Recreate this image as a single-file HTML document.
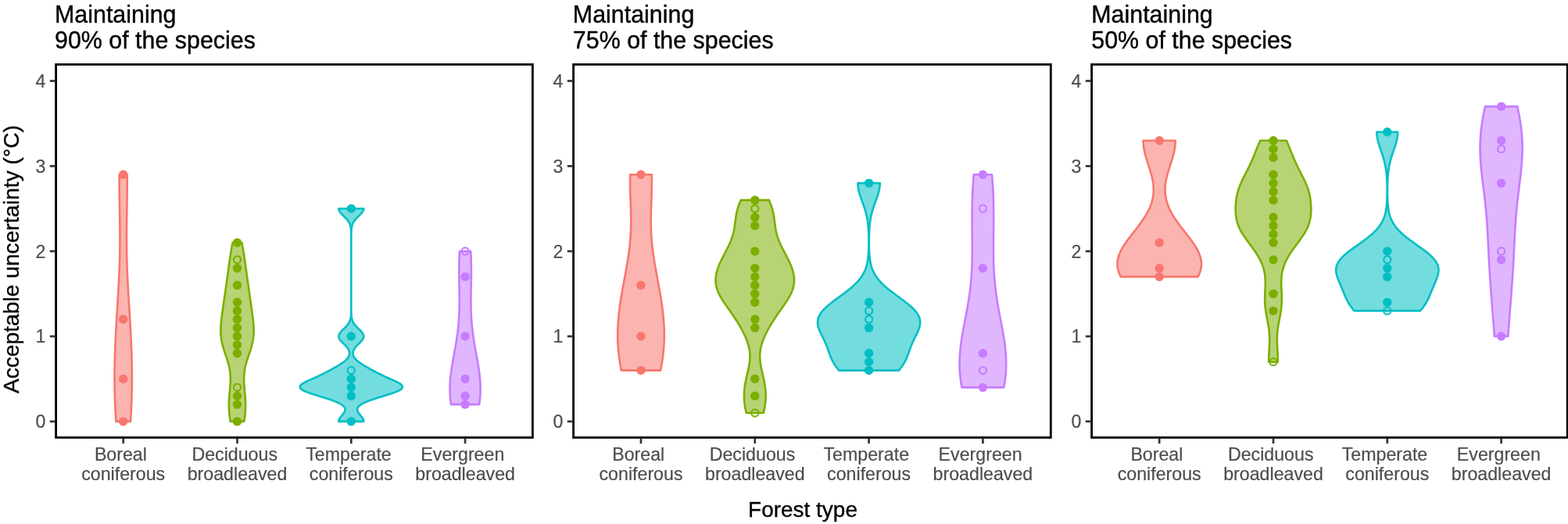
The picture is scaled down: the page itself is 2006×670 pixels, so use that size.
<!DOCTYPE html>
<html lang="en"><head><meta charset="utf-8"><title>Acceptable uncertainty by forest type</title>
<style>html,body{margin:0;padding:0;background:#fff;overflow:hidden}svg{display:block}text{font-family:"Liberation Sans",Arial,Helvetica,sans-serif}.t{font-size:31.6px;fill:#000;stroke:#000;stroke-width:.4px}.x{font-size:28.4px;fill:#000;stroke:#000;stroke-width:.35px}.a{font-size:23.2px;fill:#4D4D4D;stroke:#4D4D4D;stroke-width:.2px}</style></head><body>
<svg width="2006" height="670" viewBox="0 0 2006 670">
<rect width="2006" height="670" fill="#fff"/>
<text class="x" transform="translate(24.3,503.1) rotate(-90) scale(0.9920,1)">Acceptable uncertainty (°C)</text>
<text class="x" text-anchor="middle" transform="translate(1027,660.9) scale(0.9850,1)">Forest type</text>
<g>
<text class="t" transform="translate(70.05,28.7) scale(0.9620,1)">Maintaining</text>
<text class="t" transform="translate(70.05,61.6) scale(0.9620,1)">90% of the species</text>
<path d="M148.38,538.9L148.26,537.05L148.15,535.19L148.04,533.34L147.93,531.49L147.83,529.63L147.73,527.78L147.64,525.93L147.54,524.07L147.46,522.22L147.37,520.37L147.29,518.51L147.21,516.66L147.14,514.81L147.07,512.95L147.01,511.1L146.94,509.25L146.89,507.4L146.84,505.54L146.79,503.69L146.74,501.84L146.7,499.98L146.67,498.13L146.63,496.28L146.61,494.42L146.58,492.57L146.56,490.72L146.55,488.86L146.54,487.01L146.53,485.16L146.53,483.3L146.53,481.45L146.53,479.6L146.54,477.74L146.56,475.89L146.57,474.04L146.59,472.18L146.62,470.33L146.65,468.48L146.68,466.62L146.71,464.77L146.75,462.92L146.79,461.06L146.84,459.21L146.89,457.36L146.94,455.51L147,453.65L147.06,451.8L147.12,449.95L147.18,448.09L147.25,446.24L147.32,444.39L147.4,442.53L147.47,440.68L147.55,438.83L147.63,436.97L147.72,435.12L147.81,433.27L147.89,431.41L147.99,429.56L148.08,427.71L148.17,425.85L148.27,424L148.37,422.15L148.47,420.29L148.58,418.44L148.68,416.59L148.79,414.73L148.89,412.88L149,411.03L149.11,409.17L149.22,407.32L149.33,405.47L149.45,403.62L149.56,401.76L149.67,399.91L149.79,398.06L149.9,396.2L150.01,394.35L150.13,392.5L150.24,390.64L150.36,388.79L150.47,386.94L150.59,385.08L150.7,383.23L150.81,381.38L150.92,379.52L151.03,377.67L151.14,375.82L151.25,373.96L151.36,372.11L151.46,370.26L151.57,368.4L151.67,366.55L151.77,364.7L151.87,362.84L151.96,360.99L152.06,359.14L152.15,357.28L152.24,355.43L152.32,353.58L152.41,351.72L152.49,349.87L152.57,348.02L152.64,346.17L152.71,344.31L152.78,342.46L152.85,340.61L152.91,338.75L152.97,336.9L153.03,335.05L153.08,333.19L153.13,331.34L153.18,329.49L153.22,327.63L153.26,325.78L153.29,323.93L153.32,322.07L153.35,320.22L153.38,318.37L153.4,316.51L153.42,314.66L153.43,312.81L153.45,310.95L153.45,309.1L153.46,307.25L153.46,305.39L153.46,303.54L153.46,301.69L153.45,299.83L153.44,297.98L153.43,296.13L153.42,294.28L153.4,292.42L153.39,290.57L153.37,288.72L153.35,286.86L153.32,285.01L153.3,283.16L153.27,281.3L153.24,279.45L153.21,277.6L153.19,275.74L153.16,273.89L153.12,272.04L153.09,270.18L153.06,268.33L153.03,266.48L153,264.62L152.97,262.77L152.94,260.92L152.91,259.06L152.88,257.21L152.85,255.36L152.83,253.5L152.8,251.65L152.78,249.8L152.75,247.94L152.73,246.09L152.71,244.24L152.7,242.38L152.68,240.53L152.67,238.68L152.66,236.83L152.65,234.97L152.65,233.12L152.64,231.27L152.64,229.41L152.64,227.56L152.65,225.71L152.66,223.85L152.66,223.24L162.74,223.24L162.74,223.85L162.75,225.71L162.76,227.56L162.76,229.41L162.76,231.27L162.75,233.12L162.75,234.97L162.74,236.83L162.73,238.68L162.72,240.53L162.7,242.38L162.69,244.24L162.67,246.09L162.65,247.94L162.62,249.8L162.6,251.65L162.57,253.5L162.55,255.36L162.52,257.21L162.49,259.06L162.46,260.92L162.43,262.77L162.4,264.62L162.37,266.48L162.34,268.33L162.31,270.18L162.28,272.04L162.24,273.89L162.21,275.74L162.19,277.6L162.16,279.45L162.13,281.3L162.1,283.16L162.08,285.01L162.05,286.86L162.03,288.72L162.01,290.57L162,292.42L161.98,294.28L161.97,296.13L161.96,297.98L161.95,299.83L161.94,301.69L161.94,303.54L161.94,305.39L161.94,307.25L161.95,309.1L161.95,310.95L161.97,312.81L161.98,314.66L162,316.51L162.02,318.37L162.05,320.22L162.08,322.07L162.11,323.93L162.14,325.78L162.18,327.63L162.22,329.49L162.27,331.34L162.32,333.19L162.37,335.05L162.43,336.9L162.49,338.75L162.55,340.61L162.62,342.46L162.69,344.31L162.76,346.17L162.83,348.02L162.91,349.87L162.99,351.72L163.08,353.58L163.16,355.43L163.25,357.28L163.34,359.14L163.44,360.99L163.53,362.84L163.63,364.7L163.73,366.55L163.83,368.4L163.94,370.26L164.04,372.11L164.15,373.96L164.26,375.82L164.37,377.67L164.48,379.52L164.59,381.38L164.7,383.23L164.81,385.08L164.93,386.94L165.04,388.79L165.16,390.64L165.27,392.5L165.39,394.35L165.5,396.2L165.61,398.06L165.73,399.91L165.84,401.76L165.95,403.62L166.07,405.47L166.18,407.32L166.29,409.17L166.4,411.03L166.51,412.88L166.61,414.73L166.72,416.59L166.82,418.44L166.93,420.29L167.03,422.15L167.13,424L167.23,425.85L167.32,427.71L167.41,429.56L167.51,431.41L167.59,433.27L167.68,435.12L167.77,436.97L167.85,438.83L167.93,440.68L168,442.53L168.08,444.39L168.15,446.24L168.22,448.09L168.28,449.95L168.34,451.8L168.4,453.65L168.46,455.51L168.51,457.36L168.56,459.21L168.61,461.06L168.65,462.92L168.69,464.77L168.72,466.62L168.75,468.48L168.78,470.33L168.81,472.18L168.83,474.04L168.84,475.89L168.86,477.74L168.87,479.6L168.87,481.45L168.87,483.3L168.87,485.16L168.86,487.01L168.85,488.86L168.84,490.72L168.82,492.57L168.79,494.42L168.77,496.28L168.73,498.13L168.7,499.98L168.66,501.84L168.61,503.69L168.56,505.54L168.51,507.4L168.46,509.25L168.39,511.1L168.33,512.95L168.26,514.81L168.19,516.66L168.11,518.51L168.03,520.37L167.94,522.22L167.86,524.07L167.76,525.93L167.67,527.78L167.57,529.63L167.47,531.49L167.36,533.34L167.25,535.19L167.14,537.05L167.02,538.9Z" fill="#F8766D" fill-opacity="0.55" stroke="#F8766D" stroke-width="2.6" stroke-linejoin="round"/>
<path d="M294.72,538.9L294.5,537.56L294.29,536.22L294.09,534.87L293.91,533.53L293.74,532.19L293.58,530.85L293.44,529.51L293.32,528.16L293.21,526.82L293.11,525.48L293.04,524.14L292.97,522.8L292.92,521.45L292.89,520.11L292.88,518.77L292.88,517.43L292.89,516.09L292.92,514.74L292.96,513.4L293.01,512.06L293.08,510.72L293.15,509.38L293.24,508.03L293.34,506.69L293.44,505.35L293.56,504.01L293.67,502.67L293.79,501.32L293.91,499.98L294.04,498.64L294.16,497.3L294.28,495.96L294.39,494.61L294.49,493.27L294.59,491.93L294.67,490.59L294.75,489.25L294.8,487.9L294.84,486.56L294.86,485.22L294.86,483.88L294.84,482.54L294.79,481.19L294.72,479.85L294.63,478.51L294.5,477.17L294.35,475.83L294.18,474.48L293.97,473.14L293.74,471.8L293.48,470.46L293.19,469.12L292.88,467.77L292.55,466.43L292.19,465.09L291.82,463.75L291.42,462.41L291.01,461.06L290.58,459.72L290.15,458.38L289.7,457.04L289.25,455.7L288.79,454.35L288.34,453.01L287.88,451.67L287.43,450.33L286.99,448.99L286.56,447.64L286.14,446.3L285.74,444.96L285.35,443.62L284.98,442.28L284.63,440.93L284.31,439.59L284.01,438.25L283.73,436.91L283.48,435.57L283.25,434.23L283.05,432.88L282.88,431.54L282.73,430.2L282.61,428.86L282.52,427.52L282.45,426.17L282.4,424.83L282.37,423.49L282.37,422.15L282.39,420.81L282.42,419.46L282.48,418.12L282.55,416.78L282.64,415.44L282.74,414.1L282.85,412.75L282.98,411.41L283.11,410.07L283.26,408.73L283.41,407.39L283.57,406.04L283.74,404.7L283.91,403.36L284.08,402.02L284.26,400.68L284.44,399.33L284.63,397.99L284.81,396.65L285,395.31L285.19,393.97L285.38,392.62L285.57,391.28L285.76,389.94L285.96,388.6L286.15,387.26L286.34,385.91L286.54,384.57L286.73,383.23L286.92,381.89L287.11,380.55L287.31,379.2L287.5,377.86L287.69,376.52L287.89,375.18L288.08,373.84L288.27,372.49L288.46,371.15L288.65,369.81L288.85,368.47L289.04,367.13L289.23,365.78L289.42,364.44L289.6,363.1L289.79,361.76L289.98,360.42L290.17,359.07L290.35,357.73L290.54,356.39L290.73,355.05L290.91,353.71L291.1,352.36L291.28,351.02L291.47,349.68L291.65,348.34L291.83,347L292.02,345.65L292.21,344.31L292.39,342.97L292.58,341.63L292.77,340.29L292.96,338.94L293.15,337.6L293.34,336.26L293.54,334.92L293.73,333.58L293.93,332.23L294.13,330.89L294.34,329.55L294.54,328.21L294.75,326.87L294.96,325.52L295.18,324.18L295.39,322.84L295.61,321.5L295.83,320.16L296.06,318.81L296.28,317.47L296.51,316.13L296.74,314.79L296.97,313.45L297.2,312.1L297.43,310.76L297.51,310.31L309.49,310.31L309.57,310.76L309.8,312.1L310.03,313.45L310.26,314.79L310.49,316.13L310.72,317.47L310.94,318.81L311.17,320.16L311.39,321.5L311.61,322.84L311.82,324.18L312.04,325.52L312.25,326.87L312.46,328.21L312.66,329.55L312.87,330.89L313.07,332.23L313.27,333.58L313.46,334.92L313.66,336.26L313.85,337.6L314.04,338.94L314.23,340.29L314.42,341.63L314.61,342.97L314.79,344.31L314.98,345.65L315.17,347L315.35,348.34L315.53,349.68L315.72,351.02L315.9,352.36L316.09,353.71L316.27,355.05L316.46,356.39L316.65,357.73L316.83,359.07L317.02,360.42L317.21,361.76L317.4,363.1L317.58,364.44L317.77,365.78L317.96,367.13L318.15,368.47L318.35,369.81L318.54,371.15L318.73,372.49L318.92,373.84L319.11,375.18L319.31,376.52L319.5,377.86L319.69,379.2L319.89,380.55L320.08,381.89L320.27,383.23L320.46,384.57L320.66,385.91L320.85,387.26L321.04,388.6L321.24,389.94L321.43,391.28L321.62,392.62L321.81,393.97L322,395.31L322.19,396.65L322.37,397.99L322.56,399.33L322.74,400.68L322.92,402.02L323.09,403.36L323.26,404.7L323.43,406.04L323.59,407.39L323.74,408.73L323.89,410.07L324.02,411.41L324.15,412.75L324.26,414.1L324.36,415.44L324.45,416.78L324.52,418.12L324.58,419.46L324.61,420.81L324.63,422.15L324.63,423.49L324.6,424.83L324.55,426.17L324.48,427.52L324.39,428.86L324.27,430.2L324.12,431.54L323.95,432.88L323.75,434.23L323.52,435.57L323.27,436.91L322.99,438.25L322.69,439.59L322.37,440.93L322.02,442.28L321.65,443.62L321.26,444.96L320.86,446.3L320.44,447.64L320.01,448.99L319.57,450.33L319.12,451.67L318.66,453.01L318.21,454.35L317.75,455.7L317.3,457.04L316.85,458.38L316.42,459.72L315.99,461.06L315.58,462.41L315.18,463.75L314.81,465.09L314.45,466.43L314.12,467.77L313.81,469.12L313.52,470.46L313.26,471.8L313.03,473.14L312.82,474.48L312.65,475.83L312.5,477.17L312.37,478.51L312.28,479.85L312.21,481.19L312.16,482.54L312.14,483.88L312.14,485.22L312.16,486.56L312.2,487.9L312.25,489.25L312.33,490.59L312.41,491.93L312.51,493.27L312.61,494.61L312.72,495.96L312.84,497.3L312.96,498.64L313.09,499.98L313.21,501.32L313.33,502.67L313.44,504.01L313.56,505.35L313.66,506.69L313.76,508.03L313.85,509.38L313.92,510.72L313.99,512.06L314.04,513.4L314.08,514.74L314.11,516.09L314.12,517.43L314.12,518.77L314.11,520.11L314.08,521.45L314.03,522.8L313.96,524.14L313.89,525.48L313.79,526.82L313.68,528.16L313.56,529.51L313.42,530.85L313.26,532.19L313.09,533.53L312.91,534.87L312.71,536.22L312.5,537.56L312.28,538.9Z" fill="#7CAE00" fill-opacity="0.55" stroke="#7CAE00" stroke-width="2.6" stroke-linejoin="round"/>
<path d="M433.26,538.9L433.46,537.3L434.07,535.7L435.03,534.11L436.24,532.51L437.57,530.91L438.89,529.31L440.07,527.72L440.96,526.12L441.47,524.52L441.49,522.92L440.96,521.33L439.83,519.73L438.06,518.13L435.64,516.53L432.58,514.94L428.92,513.34L424.72,511.74L420.04,510.14L415.03,508.55L409.8,506.95L404.56,505.35L399.49,503.75L394.81,502.16L390.75,500.56L387.48,498.96L385.17,497.36L383.92,495.76L383.75,494.17L384.62,492.57L386.4,490.97L388.95,489.37L392.04,487.78L395.5,486.18L399.11,484.58L402.75,482.98L406.3,481.39L409.72,479.79L412.98,478.19L416.1,476.59L419.12,475L422.08,473.4L424.99,471.8L427.85,470.2L430.66,468.61L433.37,467.01L435.94,465.41L438.31,463.81L440.45,462.22L442.31,460.62L443.87,459.02L445.12,457.42L446.05,455.82L446.67,454.23L446.99,452.63L447.02,451.03L446.76,449.43L446.22,447.84L445.4,446.24L444.33,444.64L443.03,443.04L441.55,441.45L439.96,439.85L438.33,438.25L436.78,436.65L435.4,435.06L434.31,433.46L433.59,431.86L433.3,430.26L433.47,428.67L434.08,427.07L435.08,425.47L436.4,423.87L437.92,422.27L439.55,420.68L441.18,419.08L442.73,417.48L444.13,415.88L445.35,414.29L446.37,412.69L447.19,411.09L447.82,409.49L448.29,407.9L448.63,406.3L448.87,404.7L449.03,403.1L449.14,401.51L449.2,399.91L449.25,398.31L449.27,396.71L449.28,395.12L449.29,393.52L449.3,391.92L449.3,390.32L449.3,388.73L449.3,387.13L449.3,385.53L449.3,383.93L449.3,382.33L449.3,380.74L449.3,379.14L449.3,377.54L449.3,375.94L449.3,374.35L449.3,372.75L449.3,371.15L449.3,369.55L449.3,367.96L449.3,366.36L449.3,364.76L449.3,363.16L449.3,361.57L449.3,359.97L449.3,358.37L449.3,356.77L449.3,355.18L449.3,353.58L449.3,351.98L449.3,350.38L449.3,348.79L449.3,347.19L449.3,345.59L449.3,343.99L449.3,342.39L449.3,340.8L449.3,339.2L449.3,337.6L449.3,336L449.3,334.41L449.3,332.81L449.3,331.21L449.3,329.61L449.3,328.02L449.3,326.42L449.3,324.82L449.3,323.22L449.3,321.63L449.3,320.03L449.3,318.43L449.3,316.83L449.3,315.24L449.3,313.64L449.3,312.04L449.3,310.44L449.3,308.85L449.3,307.25L449.3,305.65L449.29,304.05L449.29,302.45L449.28,300.86L449.26,299.26L449.23,297.66L449.17,296.06L449.09,294.47L448.95,292.87L448.76,291.27L448.47,289.67L448.06,288.08L447.5,286.48L446.78,284.88L445.85,283.28L444.73,281.69L443.4,280.09L441.92,278.49L440.31,276.89L438.67,275.3L437.09,273.7L435.66,272.1L434.51,270.5L433.7,268.91L433.33,267.31L433.3,266.77L465.3,266.77L465.27,267.31L464.9,268.91L464.09,270.5L462.94,272.1L461.51,273.7L459.93,275.3L458.29,276.89L456.68,278.49L455.2,280.09L453.87,281.69L452.75,283.28L451.82,284.88L451.1,286.48L450.54,288.08L450.13,289.67L449.84,291.27L449.65,292.87L449.51,294.47L449.43,296.06L449.37,297.66L449.34,299.26L449.32,300.86L449.31,302.45L449.31,304.05L449.3,305.65L449.3,307.25L449.3,308.85L449.3,310.44L449.3,312.04L449.3,313.64L449.3,315.24L449.3,316.83L449.3,318.43L449.3,320.03L449.3,321.63L449.3,323.22L449.3,324.82L449.3,326.42L449.3,328.02L449.3,329.61L449.3,331.21L449.3,332.81L449.3,334.41L449.3,336L449.3,337.6L449.3,339.2L449.3,340.8L449.3,342.39L449.3,343.99L449.3,345.59L449.3,347.19L449.3,348.79L449.3,350.38L449.3,351.98L449.3,353.58L449.3,355.18L449.3,356.77L449.3,358.37L449.3,359.97L449.3,361.57L449.3,363.16L449.3,364.76L449.3,366.36L449.3,367.96L449.3,369.55L449.3,371.15L449.3,372.75L449.3,374.35L449.3,375.94L449.3,377.54L449.3,379.14L449.3,380.74L449.3,382.33L449.3,383.93L449.3,385.53L449.3,387.13L449.3,388.73L449.3,390.32L449.3,391.92L449.31,393.52L449.32,395.12L449.33,396.71L449.35,398.31L449.4,399.91L449.46,401.51L449.57,403.1L449.73,404.7L449.97,406.3L450.31,407.9L450.78,409.49L451.41,411.09L452.23,412.69L453.25,414.29L454.47,415.88L455.87,417.48L457.42,419.08L459.05,420.68L460.68,422.27L462.2,423.87L463.52,425.47L464.52,427.07L465.13,428.67L465.3,430.26L465.01,431.86L464.29,433.46L463.2,435.06L461.82,436.65L460.27,438.25L458.64,439.85L457.05,441.45L455.57,443.04L454.27,444.64L453.2,446.24L452.38,447.84L451.84,449.43L451.58,451.03L451.61,452.63L451.93,454.23L452.55,455.82L453.48,457.42L454.73,459.02L456.29,460.62L458.15,462.22L460.29,463.81L462.66,465.41L465.23,467.01L467.94,468.61L470.75,470.2L473.61,471.8L476.52,473.4L479.48,475L482.5,476.59L485.62,478.19L488.88,479.79L492.3,481.39L495.85,482.98L499.49,484.58L503.1,486.18L506.56,487.78L509.65,489.37L512.2,490.97L513.98,492.57L514.85,494.17L514.68,495.76L513.43,497.36L511.12,498.96L507.85,500.56L503.79,502.16L499.11,503.75L494.04,505.35L488.8,506.95L483.57,508.55L478.56,510.14L473.88,511.74L469.68,513.34L466.02,514.94L462.96,516.53L460.54,518.13L458.77,519.73L457.64,521.33L457.11,522.92L457.13,524.52L457.64,526.12L458.53,527.72L459.71,529.31L461.03,530.91L462.36,532.51L463.57,534.11L464.53,535.7L465.14,537.3L465.34,538.9Z" fill="#00BFC4" fill-opacity="0.55" stroke="#00BFC4" stroke-width="2.6" stroke-linejoin="round"/>
<path d="M577.09,517.13L576.92,515.98L576.76,514.83L576.62,513.68L576.48,512.53L576.35,511.38L576.23,510.23L576.12,509.08L576.02,507.93L575.92,506.78L575.84,505.63L575.77,504.48L575.71,503.33L575.66,502.18L575.62,501.03L575.59,499.88L575.57,498.73L575.56,497.58L575.56,496.43L575.57,495.27L575.59,494.12L575.62,492.97L575.66,491.82L575.71,490.67L575.77,489.52L575.84,488.37L575.91,487.22L576,486.07L576.09,484.92L576.19,483.77L576.3,482.62L576.42,481.47L576.54,480.32L576.67,479.17L576.81,478.02L576.96,476.87L577.11,475.72L577.26,474.57L577.43,473.42L577.59,472.27L577.77,471.12L577.95,469.97L578.13,468.82L578.31,467.67L578.5,466.52L578.7,465.37L578.89,464.22L579.09,463.07L579.29,461.92L579.5,460.77L579.7,459.62L579.91,458.47L580.12,457.32L580.33,456.17L580.54,455.02L580.75,453.86L580.96,452.71L581.17,451.56L581.37,450.41L581.58,449.26L581.79,448.11L582,446.96L582.2,445.81L582.4,444.66L582.6,443.51L582.8,442.36L583,441.21L583.19,440.06L583.38,438.91L583.57,437.76L583.76,436.61L583.94,435.46L584.12,434.31L584.29,433.16L584.46,432.01L584.63,430.86L584.79,429.71L584.95,428.56L585.11,427.41L585.26,426.26L585.41,425.11L585.55,423.96L585.69,422.81L585.82,421.66L585.95,420.51L586.07,419.36L586.19,418.21L586.31,417.06L586.42,415.91L586.53,414.76L586.63,413.61L586.72,412.46L586.82,411.3L586.9,410.15L586.99,409L587.06,407.85L587.14,406.7L587.21,405.55L587.27,404.4L587.33,403.25L587.39,402.1L587.44,400.95L587.48,399.8L587.53,398.65L587.57,397.5L587.6,396.35L587.63,395.2L587.66,394.05L587.68,392.9L587.7,391.75L587.72,390.6L587.73,389.45L587.74,388.3L587.75,387.15L587.75,386L587.75,384.85L587.75,383.7L587.75,382.55L587.74,381.4L587.73,380.25L587.72,379.1L587.71,377.95L587.69,376.8L587.68,375.65L587.66,374.5L587.64,373.35L587.62,372.2L587.6,371.05L587.58,369.89L587.56,368.74L587.54,367.59L587.51,366.44L587.49,365.29L587.47,364.14L587.45,362.99L587.43,361.84L587.41,360.69L587.39,359.54L587.37,358.39L587.35,357.24L587.34,356.09L587.32,354.94L587.31,353.79L587.3,352.64L587.29,351.49L587.29,350.34L587.28,349.19L587.28,348.04L587.28,346.89L587.28,345.74L587.29,344.59L587.3,343.44L587.31,342.29L587.32,341.14L587.34,339.99L587.36,338.84L587.38,337.69L587.41,336.54L587.44,335.39L587.47,334.24L587.51,333.09L587.55,331.94L587.59,330.79L587.64,329.64L587.69,328.49L587.74,327.33L587.8,326.18L587.86,325.03L587.92,323.88L587.98,322.73L588.05,321.58L588.07,321.2L602.13,321.2L602.15,321.58L602.22,322.73L602.28,323.88L602.34,325.03L602.4,326.18L602.46,327.33L602.51,328.49L602.56,329.64L602.61,330.79L602.65,331.94L602.69,333.09L602.73,334.24L602.76,335.39L602.79,336.54L602.82,337.69L602.84,338.84L602.86,339.99L602.88,341.14L602.89,342.29L602.9,343.44L602.91,344.59L602.92,345.74L602.92,346.89L602.92,348.04L602.92,349.19L602.91,350.34L602.91,351.49L602.9,352.64L602.89,353.79L602.88,354.94L602.86,356.09L602.85,357.24L602.83,358.39L602.81,359.54L602.79,360.69L602.77,361.84L602.75,362.99L602.73,364.14L602.71,365.29L602.69,366.44L602.66,367.59L602.64,368.74L602.62,369.89L602.6,371.05L602.58,372.2L602.56,373.35L602.54,374.5L602.52,375.65L602.51,376.8L602.49,377.95L602.48,379.1L602.47,380.25L602.46,381.4L602.45,382.55L602.45,383.7L602.45,384.85L602.45,386L602.45,387.15L602.46,388.3L602.47,389.45L602.48,390.6L602.5,391.75L602.52,392.9L602.54,394.05L602.57,395.2L602.6,396.35L602.63,397.5L602.67,398.65L602.72,399.8L602.76,400.95L602.81,402.1L602.87,403.25L602.93,404.4L602.99,405.55L603.06,406.7L603.14,407.85L603.21,409L603.3,410.15L603.38,411.3L603.48,412.46L603.57,413.61L603.67,414.76L603.78,415.91L603.89,417.06L604.01,418.21L604.13,419.36L604.25,420.51L604.38,421.66L604.51,422.81L604.65,423.96L604.79,425.11L604.94,426.26L605.09,427.41L605.25,428.56L605.41,429.71L605.57,430.86L605.74,432.01L605.91,433.16L606.08,434.31L606.26,435.46L606.44,436.61L606.63,437.76L606.82,438.91L607.01,440.06L607.2,441.21L607.4,442.36L607.6,443.51L607.8,444.66L608,445.81L608.2,446.96L608.41,448.11L608.62,449.26L608.83,450.41L609.03,451.56L609.24,452.71L609.45,453.86L609.66,455.02L609.87,456.17L610.08,457.32L610.29,458.47L610.5,459.62L610.7,460.77L610.91,461.92L611.11,463.07L611.31,464.22L611.5,465.37L611.7,466.52L611.89,467.67L612.07,468.82L612.25,469.97L612.43,471.12L612.61,472.27L612.77,473.42L612.94,474.57L613.09,475.72L613.24,476.87L613.39,478.02L613.53,479.17L613.66,480.32L613.78,481.47L613.9,482.62L614.01,483.77L614.11,484.92L614.2,486.07L614.29,487.22L614.36,488.37L614.43,489.52L614.49,490.67L614.54,491.82L614.58,492.97L614.61,494.12L614.63,495.27L614.64,496.43L614.64,497.58L614.63,498.73L614.61,499.88L614.58,501.03L614.54,502.18L614.49,503.33L614.43,504.48L614.36,505.63L614.28,506.78L614.18,507.93L614.08,509.08L613.97,510.23L613.85,511.38L613.72,512.53L613.58,513.68L613.44,514.83L613.28,515.98L613.11,517.13Z" fill="#C77CFF" fill-opacity="0.55" stroke="#C77CFF" stroke-width="2.6" stroke-linejoin="round"/>
<circle cx="157.7" cy="538.9" r="5.7" fill="#F8766D"/>
<circle cx="157.7" cy="484.47" r="5.7" fill="#F8766D"/>
<circle cx="157.7" cy="408.28" r="5.7" fill="#F8766D"/>
<circle cx="157.7" cy="223.24" r="5.7" fill="#F8766D"/>
<circle cx="303.5" cy="538.9" r="5.7" fill="#7CAE00"/>
<circle cx="303.5" cy="517.13" r="5.7" fill="#7CAE00"/>
<circle cx="303.5" cy="506.25" r="5.7" fill="#7CAE00"/>
<circle cx="303.5" cy="495.36" r="4.6" fill="none" stroke="#7CAE00" stroke-width="2.1"/>
<circle cx="303.5" cy="451.82" r="5.7" fill="#7CAE00"/>
<circle cx="303.5" cy="440.93" r="5.7" fill="#7CAE00"/>
<circle cx="303.5" cy="430.05" r="5.7" fill="#7CAE00"/>
<circle cx="303.5" cy="419.16" r="5.7" fill="#7CAE00"/>
<circle cx="303.5" cy="408.28" r="5.7" fill="#7CAE00"/>
<circle cx="303.5" cy="397.39" r="5.7" fill="#7CAE00"/>
<circle cx="303.5" cy="386.51" r="5.7" fill="#7CAE00"/>
<circle cx="303.5" cy="364.74" r="5.7" fill="#7CAE00"/>
<circle cx="303.5" cy="342.97" r="5.7" fill="#7CAE00"/>
<circle cx="303.5" cy="332.09" r="4.6" fill="none" stroke="#7CAE00" stroke-width="2.1"/>
<circle cx="303.5" cy="310.31" r="5.7" fill="#7CAE00"/>
<circle cx="449.3" cy="538.9" r="5.7" fill="#00BFC4"/>
<circle cx="449.3" cy="506.25" r="5.7" fill="#00BFC4"/>
<circle cx="449.3" cy="495.36" r="5.7" fill="#00BFC4"/>
<circle cx="449.3" cy="484.47" r="5.7" fill="#00BFC4"/>
<circle cx="449.3" cy="473.59" r="4.6" fill="none" stroke="#00BFC4" stroke-width="2.1"/>
<circle cx="449.3" cy="430.05" r="5.7" fill="#00BFC4"/>
<circle cx="449.3" cy="266.77" r="5.7" fill="#00BFC4"/>
<circle cx="595.1" cy="517.13" r="5.7" fill="#C77CFF"/>
<circle cx="595.1" cy="506.25" r="5.7" fill="#C77CFF"/>
<circle cx="595.1" cy="484.47" r="5.7" fill="#C77CFF"/>
<circle cx="595.1" cy="430.05" r="5.7" fill="#C77CFF"/>
<circle cx="595.1" cy="353.86" r="5.7" fill="#C77CFF"/>
<circle cx="595.1" cy="321.2" r="4.6" fill="none" stroke="#C77CFF" stroke-width="2.1"/>
<rect x="71.6" y="82.45" width="609.8" height="477" fill="none" stroke="#000" stroke-width="2.8"/>
<line x1="63.8" x2="70.2" y1="538.9" y2="538.9" stroke="#333" stroke-width="2.7"/>
<text class="a" text-anchor="end" transform="translate(58.4,547.2)">0</text>
<line x1="63.8" x2="70.2" y1="430.05" y2="430.05" stroke="#333" stroke-width="2.7"/>
<text class="a" text-anchor="end" transform="translate(58.4,438.35)">1</text>
<line x1="63.8" x2="70.2" y1="321.2" y2="321.2" stroke="#333" stroke-width="2.7"/>
<text class="a" text-anchor="end" transform="translate(58.4,329.5)">2</text>
<line x1="63.8" x2="70.2" y1="212.35" y2="212.35" stroke="#333" stroke-width="2.7"/>
<text class="a" text-anchor="end" transform="translate(58.4,220.65)">3</text>
<line x1="63.8" x2="70.2" y1="103.5" y2="103.5" stroke="#333" stroke-width="2.7"/>
<text class="a" text-anchor="end" transform="translate(58.4,111.8)">4</text>
<line x1="157.7" x2="157.7" y1="560.85" y2="567.15" stroke="#333" stroke-width="2.7"/>
<text class="a" text-anchor="middle" transform="translate(154.4,588.7)">Boreal</text>
<text class="a" text-anchor="middle" transform="translate(157.7,613.6)">coniferous</text>
<line x1="303.5" x2="303.5" y1="560.85" y2="567.15" stroke="#333" stroke-width="2.7"/>
<text class="a" text-anchor="middle" transform="translate(300.2,588.7)">Deciduous</text>
<text class="a" text-anchor="middle" transform="translate(303.5,613.6)">broadleaved</text>
<line x1="449.3" x2="449.3" y1="560.85" y2="567.15" stroke="#333" stroke-width="2.7"/>
<text class="a" text-anchor="middle" transform="translate(446,588.7)">Temperate</text>
<text class="a" text-anchor="middle" transform="translate(449.3,613.6)">coniferous</text>
<line x1="595.1" x2="595.1" y1="560.85" y2="567.15" stroke="#333" stroke-width="2.7"/>
<text class="a" text-anchor="middle" transform="translate(591.8,588.7)">Evergreen</text>
<text class="a" text-anchor="middle" transform="translate(595.1,613.6)">broadleaved</text>
</g>
<g>
<text class="t" transform="translate(732.85,28.7) scale(0.9620,1)">Maintaining</text>
<text class="t" transform="translate(732.85,61.6) scale(0.9620,1)">75% of the species</text>
<path d="M794.92,473.59L794.62,472.12L794.34,470.65L794.06,469.18L793.79,467.71L793.53,466.24L793.27,464.77L793.03,463.3L792.8,461.83L792.57,460.36L792.36,458.89L792.15,457.42L791.96,455.95L791.77,454.48L791.6,453.01L791.43,451.54L791.28,450.07L791.13,448.6L791,447.13L790.88,445.66L790.76,444.19L790.66,442.72L790.57,441.25L790.49,439.78L790.41,438.31L790.35,436.85L790.3,435.38L790.26,433.91L790.23,432.44L790.21,430.97L790.2,429.5L790.2,428.03L790.21,426.56L790.23,425.09L790.26,423.62L790.29,422.15L790.34,420.68L790.4,419.21L790.46,417.74L790.54,416.27L790.62,414.8L790.71,413.33L790.81,411.86L790.92,410.39L791.04,408.92L791.16,407.45L791.29,405.98L791.43,404.51L791.58,403.04L791.73,401.57L791.89,400.1L792.06,398.63L792.23,397.16L792.41,395.69L792.6,394.22L792.79,392.75L792.99,391.28L793.2,389.81L793.41,388.34L793.62,386.87L793.84,385.4L794.07,383.93L794.3,382.46L794.53,380.99L794.77,379.52L795.01,378.05L795.26,376.58L795.51,375.11L795.76,373.64L796.02,372.17L796.27,370.7L796.54,369.23L796.8,367.76L797.06,366.3L797.33,364.83L797.6,363.36L797.87,361.89L798.14,360.42L798.41,358.95L798.69,357.48L798.96,356.01L799.23,354.54L799.5,353.07L799.78,351.6L800.05,350.13L800.32,348.66L800.58,347.19L800.85,345.72L801.11,344.25L801.37,342.78L801.63,341.31L801.89,339.84L802.14,338.37L802.39,336.9L802.63,335.43L802.88,333.96L803.11,332.49L803.34,331.02L803.57,329.55L803.79,328.08L804.01,326.61L804.22,325.14L804.42,323.67L804.62,322.2L804.81,320.73L805,319.26L805.18,317.79L805.35,316.32L805.52,314.85L805.67,313.38L805.82,311.91L805.97,310.44L806.1,308.97L806.23,307.5L806.35,306.03L806.46,304.56L806.57,303.09L806.67,301.62L806.75,300.15L806.84,298.68L806.91,297.21L806.98,295.74L807.03,294.28L807.09,292.81L807.13,291.34L807.17,289.87L807.2,288.4L807.22,286.93L807.24,285.46L807.25,283.99L807.25,282.52L807.25,281.05L807.24,279.58L807.23,278.11L807.21,276.64L807.19,275.17L807.16,273.7L807.13,272.23L807.09,270.76L807.06,269.29L807.01,267.82L806.97,266.35L806.92,264.88L806.88,263.41L806.83,261.94L806.77,260.47L806.72,259L806.67,257.53L806.62,256.06L806.57,254.59L806.52,253.12L806.47,251.65L806.42,250.18L806.37,248.71L806.33,247.24L806.29,245.77L806.25,244.3L806.22,242.83L806.19,241.36L806.16,239.89L806.14,238.42L806.12,236.95L806.11,235.48L806.1,234.01L806.1,232.54L806.1,231.07L806.11,229.6L806.13,228.13L806.15,226.66L806.18,225.19L806.21,223.72L806.22,223.24L833.78,223.24L833.79,223.72L833.82,225.19L833.85,226.66L833.87,228.13L833.89,229.6L833.9,231.07L833.9,232.54L833.9,234.01L833.89,235.48L833.88,236.95L833.86,238.42L833.84,239.89L833.81,241.36L833.78,242.83L833.75,244.3L833.71,245.77L833.67,247.24L833.63,248.71L833.58,250.18L833.53,251.65L833.48,253.12L833.43,254.59L833.38,256.06L833.33,257.53L833.28,259L833.23,260.47L833.17,261.94L833.12,263.41L833.08,264.88L833.03,266.35L832.99,267.82L832.94,269.29L832.91,270.76L832.87,272.23L832.84,273.7L832.81,275.17L832.79,276.64L832.77,278.11L832.76,279.58L832.75,281.05L832.75,282.52L832.75,283.99L832.76,285.46L832.78,286.93L832.8,288.4L832.83,289.87L832.87,291.34L832.91,292.81L832.97,294.28L833.02,295.74L833.09,297.21L833.16,298.68L833.25,300.15L833.33,301.62L833.43,303.09L833.54,304.56L833.65,306.03L833.77,307.5L833.9,308.97L834.03,310.44L834.18,311.91L834.33,313.38L834.48,314.85L834.65,316.32L834.82,317.79L835,319.26L835.19,320.73L835.38,322.2L835.58,323.67L835.78,325.14L835.99,326.61L836.21,328.08L836.43,329.55L836.66,331.02L836.89,332.49L837.12,333.96L837.37,335.43L837.61,336.9L837.86,338.37L838.11,339.84L838.37,341.31L838.63,342.78L838.89,344.25L839.15,345.72L839.42,347.19L839.68,348.66L839.95,350.13L840.22,351.6L840.5,353.07L840.77,354.54L841.04,356.01L841.31,357.48L841.59,358.95L841.86,360.42L842.13,361.89L842.4,363.36L842.67,364.83L842.94,366.3L843.2,367.76L843.46,369.23L843.73,370.7L843.98,372.17L844.24,373.64L844.49,375.11L844.74,376.58L844.99,378.05L845.23,379.52L845.47,380.99L845.7,382.46L845.93,383.93L846.16,385.4L846.38,386.87L846.59,388.34L846.8,389.81L847.01,391.28L847.21,392.75L847.4,394.22L847.59,395.69L847.77,397.16L847.94,398.63L848.11,400.1L848.27,401.57L848.42,403.04L848.57,404.51L848.71,405.98L848.84,407.45L848.96,408.92L849.08,410.39L849.19,411.86L849.29,413.33L849.38,414.8L849.46,416.27L849.54,417.74L849.6,419.21L849.66,420.68L849.71,422.15L849.74,423.62L849.77,425.09L849.79,426.56L849.8,428.03L849.8,429.5L849.79,430.97L849.77,432.44L849.74,433.91L849.7,435.38L849.65,436.85L849.59,438.31L849.51,439.78L849.43,441.25L849.34,442.72L849.24,444.19L849.12,445.66L849,447.13L848.87,448.6L848.72,450.07L848.57,451.54L848.4,453.01L848.23,454.48L848.04,455.95L847.85,457.42L847.64,458.89L847.43,460.36L847.2,461.83L846.97,463.3L846.73,464.77L846.47,466.24L846.21,467.71L845.94,469.18L845.66,470.65L845.38,472.12L845.08,473.59Z" fill="#F8766D" fill-opacity="0.55" stroke="#F8766D" stroke-width="2.6" stroke-linejoin="round"/>
<path d="M954.76,528.01L954.39,526.42L954.05,524.82L953.72,523.22L953.41,521.62L953.14,520.03L952.88,518.43L952.66,516.83L952.46,515.23L952.3,513.64L952.17,512.04L952.06,510.44L951.99,508.84L951.95,507.25L951.95,505.65L951.97,504.05L952.03,502.45L952.12,500.86L952.24,499.26L952.39,497.66L952.57,496.06L952.78,494.47L953.01,492.87L953.26,491.27L953.54,489.67L953.84,488.07L954.16,486.48L954.5,484.88L954.84,483.28L955.2,481.68L955.57,480.09L955.93,478.49L956.3,476.89L956.66,475.29L957.02,473.7L957.36,472.1L957.69,470.5L958,468.9L958.29,467.31L958.55,465.71L958.78,464.11L958.98,462.51L959.14,460.92L959.27,459.32L959.35,457.72L959.38,456.12L959.37,454.53L959.32,452.93L959.21,451.33L959.06,449.73L958.85,448.13L958.6,446.54L958.3,444.94L957.95,443.34L957.55,441.74L957.1,440.15L956.61,438.55L956.07,436.95L955.5,435.35L954.88,433.76L954.23,432.16L953.54,430.56L952.82,428.96L952.07,427.37L951.29,425.77L950.48,424.17L949.64,422.57L948.78,420.98L947.89,419.38L946.98,417.78L946.05,416.18L945.1,414.59L944.12,412.99L943.13,411.39L942.11,409.79L941.08,408.19L940.03,406.6L938.96,405L937.88,403.4L936.78,401.8L935.67,400.21L934.55,398.61L933.42,397.01L932.29,395.41L931.16,393.82L930.03,392.22L928.92,390.62L927.81,389.02L926.73,387.43L925.66,385.83L924.63,384.23L923.63,382.63L922.67,381.04L921.75,379.44L920.88,377.84L920.07,376.24L919.31,374.65L918.62,373.05L917.99,371.45L917.43,369.85L916.94,368.25L916.52,366.66L916.18,365.06L915.9,363.46L915.7,361.86L915.58,360.27L915.52,358.67L915.54,357.07L915.63,355.47L915.78,353.88L916,352.28L916.27,350.68L916.61,349.08L917.01,347.49L917.45,345.89L917.95,344.29L918.5,342.69L919.08,341.1L919.71,339.5L920.38,337.9L921.08,336.3L921.81,334.71L922.57,333.11L923.35,331.51L924.15,329.91L924.96,328.31L925.79,326.72L926.62,325.12L927.46,323.52L928.3,321.92L929.13,320.33L929.95,318.73L930.76,317.13L931.55,315.53L932.32,313.94L933.07,312.34L933.78,310.74L934.47,309.14L935.11,307.55L935.72,305.95L936.3,304.35L936.83,302.75L937.32,301.16L937.77,299.56L938.18,297.96L938.55,296.36L938.89,294.76L939.19,293.17L939.47,291.57L939.72,289.97L939.95,288.37L940.17,286.78L940.37,285.18L940.58,283.58L940.78,281.98L940.99,280.39L941.21,278.79L941.45,277.19L941.71,275.59L942,274L942.32,272.4L942.67,270.8L943.06,269.2L943.48,267.61L943.94,266.01L944.44,264.41L944.98,262.81L945.56,261.22L946.18,259.62L946.82,258.02L947.5,256.42L947.73,255.89L983.87,255.89L984.1,256.42L984.78,258.02L985.42,259.62L986.04,261.22L986.62,262.81L987.16,264.41L987.66,266.01L988.12,267.61L988.54,269.2L988.93,270.8L989.28,272.4L989.6,274L989.89,275.59L990.15,277.19L990.39,278.79L990.61,280.39L990.82,281.98L991.02,283.58L991.23,285.18L991.43,286.78L991.65,288.37L991.88,289.97L992.13,291.57L992.41,293.17L992.71,294.76L993.05,296.36L993.42,297.96L993.83,299.56L994.28,301.16L994.77,302.75L995.3,304.35L995.88,305.95L996.49,307.55L997.13,309.14L997.82,310.74L998.53,312.34L999.28,313.94L1000.05,315.53L1000.84,317.13L1001.65,318.73L1002.47,320.33L1003.3,321.92L1004.14,323.52L1004.98,325.12L1005.81,326.72L1006.64,328.31L1007.45,329.91L1008.25,331.51L1009.03,333.11L1009.79,334.71L1010.52,336.3L1011.22,337.9L1011.89,339.5L1012.52,341.1L1013.1,342.69L1013.65,344.29L1014.15,345.89L1014.59,347.49L1014.99,349.08L1015.33,350.68L1015.6,352.28L1015.82,353.88L1015.97,355.47L1016.06,357.07L1016.08,358.67L1016.02,360.27L1015.9,361.86L1015.7,363.46L1015.42,365.06L1015.08,366.66L1014.66,368.25L1014.17,369.85L1013.61,371.45L1012.98,373.05L1012.29,374.65L1011.53,376.24L1010.72,377.84L1009.85,379.44L1008.93,381.04L1007.97,382.63L1006.97,384.23L1005.94,385.83L1004.87,387.43L1003.79,389.02L1002.68,390.62L1001.57,392.22L1000.44,393.82L999.31,395.41L998.18,397.01L997.05,398.61L995.93,400.21L994.82,401.8L993.72,403.4L992.64,405L991.57,406.6L990.52,408.19L989.49,409.79L988.47,411.39L987.48,412.99L986.5,414.59L985.55,416.18L984.62,417.78L983.71,419.38L982.82,420.98L981.96,422.57L981.12,424.17L980.31,425.77L979.53,427.37L978.78,428.96L978.06,430.56L977.37,432.16L976.72,433.76L976.1,435.35L975.53,436.95L974.99,438.55L974.5,440.15L974.05,441.74L973.65,443.34L973.3,444.94L973,446.54L972.75,448.13L972.54,449.73L972.39,451.33L972.28,452.93L972.23,454.53L972.22,456.12L972.25,457.72L972.33,459.32L972.46,460.92L972.62,462.51L972.82,464.11L973.05,465.71L973.31,467.31L973.6,468.9L973.91,470.5L974.24,472.1L974.58,473.7L974.94,475.29L975.3,476.89L975.67,478.49L976.03,480.09L976.4,481.68L976.76,483.28L977.1,484.88L977.44,486.48L977.76,488.07L978.06,489.67L978.34,491.27L978.59,492.87L978.82,494.47L979.03,496.06L979.21,497.66L979.36,499.26L979.48,500.86L979.57,502.45L979.63,504.05L979.65,505.65L979.65,507.25L979.61,508.84L979.54,510.44L979.43,512.04L979.3,513.64L979.14,515.23L978.94,516.83L978.72,518.43L978.46,520.03L978.19,521.62L977.88,523.22L977.55,524.82L977.21,526.42L976.84,528.01Z" fill="#7CAE00" fill-opacity="0.55" stroke="#7CAE00" stroke-width="2.6" stroke-linejoin="round"/>
<path d="M1073.26,473.59L1072.09,472.18L1070.97,470.78L1069.91,469.37L1068.91,467.97L1067.96,466.56L1067.07,465.15L1066.24,463.75L1065.47,462.34L1064.74,460.94L1064.07,459.53L1063.43,458.13L1062.84,456.72L1062.27,455.31L1061.74,453.91L1061.22,452.5L1060.72,451.1L1060.22,449.69L1059.73,448.28L1059.23,446.88L1058.72,445.47L1058.2,444.07L1057.66,442.66L1057.11,441.25L1056.52,439.85L1055.92,438.44L1055.29,437.04L1054.64,435.63L1053.98,434.23L1053.29,432.82L1052.6,431.41L1051.9,430.01L1051.2,428.6L1050.51,427.2L1049.84,425.79L1049.2,424.38L1048.58,422.98L1048.01,421.57L1047.5,420.17L1047.04,418.76L1046.66,417.35L1046.35,415.95L1046.14,414.54L1046.02,413.14L1045.99,411.73L1046.08,410.32L1046.28,408.92L1046.59,407.51L1047.03,406.11L1047.58,404.7L1048.25,403.3L1049.05,401.89L1049.96,400.48L1050.99,399.08L1052.13,397.67L1053.37,396.27L1054.72,394.86L1056.16,393.45L1057.69,392.05L1059.3,390.64L1060.99,389.24L1062.73,387.83L1064.53,386.42L1066.37,385.02L1068.25,383.61L1070.15,382.21L1072.06,380.8L1073.99,379.4L1075.91,377.99L1077.82,376.58L1079.71,375.18L1081.57,373.77L1083.4,372.37L1085.19,370.96L1086.93,369.55L1088.62,368.15L1090.25,366.74L1091.82,365.34L1093.33,363.93L1094.76,362.52L1096.13,361.12L1097.43,359.71L1098.65,358.31L1099.81,356.9L1100.89,355.5L1101.9,354.09L1102.84,352.68L1103.71,351.28L1104.52,349.87L1105.27,348.47L1105.95,347.06L1106.57,345.65L1107.14,344.25L1107.66,342.84L1108.12,341.44L1108.55,340.03L1108.92,338.62L1109.26,337.22L1109.57,335.81L1109.83,334.41L1110.07,333L1110.28,331.6L1110.47,330.19L1110.63,328.78L1110.77,327.38L1110.89,325.97L1110.99,324.57L1111.08,323.16L1111.16,321.75L1111.22,320.35L1111.28,318.94L1111.32,317.54L1111.36,316.13L1111.39,314.72L1111.41,313.32L1111.42,311.91L1111.43,310.51L1111.43,309.1L1111.43,307.69L1111.42,306.29L1111.4,304.88L1111.38,303.48L1111.35,302.07L1111.32,300.67L1111.27,299.26L1111.22,297.85L1111.16,296.45L1111.09,295.04L1111.01,293.64L1110.92,292.23L1110.82,290.82L1110.7,289.42L1110.57,288.01L1110.42,286.61L1110.25,285.2L1110.07,283.79L1109.87,282.39L1109.65,280.98L1109.41,279.58L1109.14,278.17L1108.86,276.77L1108.55,275.36L1108.22,273.95L1107.87,272.55L1107.5,271.14L1107.1,269.74L1106.69,268.33L1106.25,266.92L1105.8,265.52L1105.33,264.11L1104.84,262.71L1104.35,261.3L1103.85,259.89L1103.34,258.49L1102.83,257.08L1102.32,255.68L1101.81,254.27L1101.32,252.87L1100.84,251.46L1100.38,250.05L1099.93,248.65L1099.52,247.24L1099.13,245.84L1098.78,244.43L1098.46,243.02L1098.19,241.62L1097.95,240.21L1097.77,238.81L1097.63,237.4L1097.54,235.99L1097.49,234.59L1097.49,234.12L1125.71,234.12L1125.71,234.59L1125.66,235.99L1125.57,237.4L1125.43,238.81L1125.25,240.21L1125.01,241.62L1124.74,243.02L1124.42,244.43L1124.07,245.84L1123.68,247.24L1123.27,248.65L1122.82,250.05L1122.36,251.46L1121.88,252.87L1121.39,254.27L1120.88,255.68L1120.37,257.08L1119.86,258.49L1119.35,259.89L1118.85,261.3L1118.36,262.71L1117.87,264.11L1117.4,265.52L1116.95,266.92L1116.51,268.33L1116.1,269.74L1115.7,271.14L1115.33,272.55L1114.98,273.95L1114.65,275.36L1114.34,276.77L1114.06,278.17L1113.79,279.58L1113.55,280.98L1113.33,282.39L1113.13,283.79L1112.95,285.2L1112.78,286.61L1112.63,288.01L1112.5,289.42L1112.38,290.82L1112.28,292.23L1112.19,293.64L1112.11,295.04L1112.04,296.45L1111.98,297.85L1111.93,299.26L1111.88,300.67L1111.85,302.07L1111.82,303.48L1111.8,304.88L1111.78,306.29L1111.77,307.69L1111.77,309.1L1111.77,310.51L1111.78,311.91L1111.79,313.32L1111.81,314.72L1111.84,316.13L1111.88,317.54L1111.92,318.94L1111.98,320.35L1112.04,321.75L1112.12,323.16L1112.21,324.57L1112.31,325.97L1112.43,327.38L1112.57,328.78L1112.73,330.19L1112.92,331.6L1113.13,333L1113.37,334.41L1113.63,335.81L1113.94,337.22L1114.28,338.62L1114.65,340.03L1115.08,341.44L1115.54,342.84L1116.06,344.25L1116.63,345.65L1117.25,347.06L1117.93,348.47L1118.68,349.87L1119.49,351.28L1120.36,352.68L1121.3,354.09L1122.31,355.5L1123.39,356.9L1124.55,358.31L1125.77,359.71L1127.07,361.12L1128.44,362.52L1129.87,363.93L1131.38,365.34L1132.95,366.74L1134.58,368.15L1136.27,369.55L1138.01,370.96L1139.8,372.37L1141.63,373.77L1143.49,375.18L1145.38,376.58L1147.29,377.99L1149.21,379.4L1151.14,380.8L1153.05,382.21L1154.95,383.61L1156.83,385.02L1158.67,386.42L1160.47,387.83L1162.21,389.24L1163.9,390.64L1165.51,392.05L1167.04,393.45L1168.48,394.86L1169.83,396.27L1171.07,397.67L1172.21,399.08L1173.24,400.48L1174.15,401.89L1174.95,403.3L1175.62,404.7L1176.17,406.11L1176.61,407.51L1176.92,408.92L1177.12,410.32L1177.21,411.73L1177.18,413.14L1177.06,414.54L1176.85,415.95L1176.54,417.35L1176.16,418.76L1175.7,420.17L1175.19,421.57L1174.62,422.98L1174,424.38L1173.36,425.79L1172.69,427.2L1172,428.6L1171.3,430.01L1170.6,431.41L1169.91,432.82L1169.22,434.23L1168.56,435.63L1167.91,437.04L1167.28,438.44L1166.68,439.85L1166.09,441.25L1165.54,442.66L1165,444.07L1164.48,445.47L1163.97,446.88L1163.47,448.28L1162.98,449.69L1162.48,451.1L1161.98,452.5L1161.46,453.91L1160.93,455.31L1160.36,456.72L1159.77,458.13L1159.13,459.53L1158.46,460.94L1157.73,462.34L1156.96,463.75L1156.13,465.15L1155.24,466.56L1154.29,467.97L1153.29,469.37L1152.23,470.78L1151.11,472.18L1149.94,473.59Z" fill="#00BFC4" fill-opacity="0.55" stroke="#00BFC4" stroke-width="2.6" stroke-linejoin="round"/>
<path d="M1230.45,495.36L1230.17,493.76L1229.9,492.16L1229.64,490.57L1229.4,488.97L1229.18,487.37L1228.96,485.77L1228.76,484.18L1228.58,482.58L1228.41,480.98L1228.26,479.38L1228.12,477.79L1228,476.19L1227.89,474.59L1227.8,472.99L1227.73,471.4L1227.67,469.8L1227.63,468.2L1227.6,466.6L1227.59,465.01L1227.59,463.41L1227.61,461.81L1227.65,460.21L1227.7,458.62L1227.76,457.02L1227.84,455.42L1227.94,453.82L1228.05,452.22L1228.17,450.63L1228.31,449.03L1228.46,447.43L1228.62,445.83L1228.79,444.24L1228.98,442.64L1229.17,441.04L1229.38,439.44L1229.6,437.85L1229.83,436.25L1230.06,434.65L1230.31,433.05L1230.56,431.46L1230.83,429.86L1231.09,428.26L1231.37,426.66L1231.65,425.07L1231.94,423.47L1232.23,421.87L1232.52,420.27L1232.82,418.68L1233.12,417.08L1233.43,415.48L1233.73,413.88L1234.04,412.28L1234.35,410.69L1234.66,409.09L1234.97,407.49L1235.27,405.89L1235.58,404.3L1235.89,402.7L1236.19,401.1L1236.49,399.5L1236.79,397.91L1237.08,396.31L1237.37,394.71L1237.65,393.11L1237.93,391.52L1238.21,389.92L1238.48,388.32L1238.75,386.72L1239.01,385.13L1239.26,383.53L1239.51,381.93L1239.75,380.33L1239.98,378.74L1240.21,377.14L1240.43,375.54L1240.64,373.94L1240.85,372.34L1241.05,370.75L1241.24,369.15L1241.42,367.55L1241.6,365.95L1241.77,364.36L1241.93,362.76L1242.09,361.16L1242.23,359.56L1242.37,357.97L1242.51,356.37L1242.63,354.77L1242.75,353.17L1242.86,351.58L1242.96,349.98L1243.06,348.38L1243.15,346.78L1243.24,345.19L1243.31,343.59L1243.39,341.99L1243.45,340.39L1243.51,338.79L1243.57,337.2L1243.61,335.6L1243.66,334L1243.7,332.4L1243.73,330.81L1243.76,329.21L1243.78,327.61L1243.8,326.01L1243.82,324.42L1243.83,322.82L1243.84,321.22L1243.85,319.62L1243.85,318.03L1243.85,316.43L1243.85,314.83L1243.85,313.23L1243.84,311.64L1243.83,310.04L1243.82,308.44L1243.81,306.84L1243.79,305.25L1243.78,303.65L1243.77,302.05L1243.75,300.45L1243.73,298.85L1243.72,297.26L1243.7,295.66L1243.69,294.06L1243.67,292.46L1243.66,290.87L1243.65,289.27L1243.63,287.67L1243.62,286.07L1243.61,284.48L1243.61,282.88L1243.6,281.28L1243.6,279.68L1243.6,278.09L1243.6,276.49L1243.6,274.89L1243.61,273.29L1243.62,271.7L1243.63,270.1L1243.65,268.5L1243.67,266.9L1243.69,265.31L1243.72,263.71L1243.75,262.11L1243.78,260.51L1243.82,258.91L1243.86,257.32L1243.91,255.72L1243.95,254.12L1244.01,252.52L1244.07,250.93L1244.13,249.33L1244.2,247.73L1244.27,246.13L1244.34,244.54L1244.42,242.94L1244.5,241.34L1244.59,239.74L1244.68,238.15L1244.78,236.55L1244.88,234.95L1244.99,233.35L1245.1,231.76L1245.21,230.16L1245.33,228.56L1245.45,226.96L1245.57,225.37L1245.7,223.77L1245.75,223.24L1269.05,223.24L1269.1,223.77L1269.23,225.37L1269.35,226.96L1269.47,228.56L1269.59,230.16L1269.7,231.76L1269.81,233.35L1269.92,234.95L1270.02,236.55L1270.12,238.15L1270.21,239.74L1270.3,241.34L1270.38,242.94L1270.46,244.54L1270.53,246.13L1270.6,247.73L1270.67,249.33L1270.73,250.93L1270.79,252.52L1270.85,254.12L1270.89,255.72L1270.94,257.32L1270.98,258.91L1271.02,260.51L1271.05,262.11L1271.08,263.71L1271.11,265.31L1271.13,266.9L1271.15,268.5L1271.17,270.1L1271.18,271.7L1271.19,273.29L1271.2,274.89L1271.2,276.49L1271.2,278.09L1271.2,279.68L1271.2,281.28L1271.19,282.88L1271.19,284.48L1271.18,286.07L1271.17,287.67L1271.15,289.27L1271.14,290.87L1271.13,292.46L1271.11,294.06L1271.1,295.66L1271.08,297.26L1271.07,298.85L1271.05,300.45L1271.03,302.05L1271.02,303.65L1271.01,305.25L1270.99,306.84L1270.98,308.44L1270.97,310.04L1270.96,311.64L1270.95,313.23L1270.95,314.83L1270.95,316.43L1270.95,318.03L1270.95,319.62L1270.96,321.22L1270.97,322.82L1270.98,324.42L1271,326.01L1271.02,327.61L1271.04,329.21L1271.07,330.81L1271.1,332.4L1271.14,334L1271.19,335.6L1271.23,337.2L1271.29,338.79L1271.35,340.39L1271.41,341.99L1271.49,343.59L1271.56,345.19L1271.65,346.78L1271.74,348.38L1271.84,349.98L1271.94,351.58L1272.05,353.17L1272.17,354.77L1272.29,356.37L1272.43,357.97L1272.57,359.56L1272.71,361.16L1272.87,362.76L1273.03,364.36L1273.2,365.95L1273.38,367.55L1273.56,369.15L1273.75,370.75L1273.95,372.34L1274.16,373.94L1274.37,375.54L1274.59,377.14L1274.82,378.74L1275.05,380.33L1275.29,381.93L1275.54,383.53L1275.79,385.13L1276.05,386.72L1276.32,388.32L1276.59,389.92L1276.87,391.52L1277.15,393.11L1277.43,394.71L1277.72,396.31L1278.01,397.91L1278.31,399.5L1278.61,401.1L1278.91,402.7L1279.22,404.3L1279.53,405.89L1279.83,407.49L1280.14,409.09L1280.45,410.69L1280.76,412.28L1281.07,413.88L1281.37,415.48L1281.68,417.08L1281.98,418.68L1282.28,420.27L1282.57,421.87L1282.86,423.47L1283.15,425.07L1283.43,426.66L1283.71,428.26L1283.97,429.86L1284.24,431.46L1284.49,433.05L1284.74,434.65L1284.97,436.25L1285.2,437.85L1285.42,439.44L1285.63,441.04L1285.82,442.64L1286.01,444.24L1286.18,445.83L1286.34,447.43L1286.49,449.03L1286.63,450.63L1286.75,452.22L1286.86,453.82L1286.96,455.42L1287.04,457.02L1287.1,458.62L1287.15,460.21L1287.19,461.81L1287.21,463.41L1287.21,465.01L1287.2,466.6L1287.17,468.2L1287.13,469.8L1287.07,471.4L1287,472.99L1286.91,474.59L1286.8,476.19L1286.68,477.79L1286.54,479.38L1286.39,480.98L1286.22,482.58L1286.04,484.18L1285.84,485.77L1285.62,487.37L1285.4,488.97L1285.16,490.57L1284.9,492.16L1284.63,493.76L1284.35,495.36Z" fill="#C77CFF" fill-opacity="0.55" stroke="#C77CFF" stroke-width="2.6" stroke-linejoin="round"/>
<circle cx="820" cy="473.59" r="5.7" fill="#F8766D"/>
<circle cx="820" cy="430.05" r="5.7" fill="#F8766D"/>
<circle cx="820" cy="364.74" r="5.7" fill="#F8766D"/>
<circle cx="820" cy="223.24" r="5.7" fill="#F8766D"/>
<circle cx="965.8" cy="528.01" r="4.6" fill="none" stroke="#7CAE00" stroke-width="2.1"/>
<circle cx="965.8" cy="506.25" r="5.7" fill="#7CAE00"/>
<circle cx="965.8" cy="484.47" r="5.7" fill="#7CAE00"/>
<circle cx="965.8" cy="419.16" r="5.7" fill="#7CAE00"/>
<circle cx="965.8" cy="408.28" r="5.7" fill="#7CAE00"/>
<circle cx="965.8" cy="386.51" r="5.7" fill="#7CAE00"/>
<circle cx="965.8" cy="375.62" r="5.7" fill="#7CAE00"/>
<circle cx="965.8" cy="364.74" r="5.7" fill="#7CAE00"/>
<circle cx="965.8" cy="353.86" r="5.7" fill="#7CAE00"/>
<circle cx="965.8" cy="342.97" r="5.7" fill="#7CAE00"/>
<circle cx="965.8" cy="321.2" r="5.7" fill="#7CAE00"/>
<circle cx="965.8" cy="288.55" r="5.7" fill="#7CAE00"/>
<circle cx="965.8" cy="277.66" r="5.7" fill="#7CAE00"/>
<circle cx="965.8" cy="266.77" r="4.6" fill="none" stroke="#7CAE00" stroke-width="2.1"/>
<circle cx="965.8" cy="255.89" r="5.7" fill="#7CAE00"/>
<circle cx="1111.6" cy="473.59" r="5.7" fill="#00BFC4"/>
<circle cx="1111.6" cy="462.7" r="5.7" fill="#00BFC4"/>
<circle cx="1111.6" cy="451.82" r="5.7" fill="#00BFC4"/>
<circle cx="1111.6" cy="419.16" r="5.7" fill="#00BFC4"/>
<circle cx="1111.6" cy="408.28" r="4.6" fill="none" stroke="#00BFC4" stroke-width="2.1"/>
<circle cx="1111.6" cy="397.39" r="4.6" fill="none" stroke="#00BFC4" stroke-width="2.1"/>
<circle cx="1111.6" cy="386.51" r="5.7" fill="#00BFC4"/>
<circle cx="1111.6" cy="234.12" r="5.7" fill="#00BFC4"/>
<circle cx="1257.4" cy="495.36" r="5.7" fill="#C77CFF"/>
<circle cx="1257.4" cy="473.59" r="4.6" fill="none" stroke="#C77CFF" stroke-width="2.1"/>
<circle cx="1257.4" cy="451.82" r="5.7" fill="#C77CFF"/>
<circle cx="1257.4" cy="342.97" r="5.7" fill="#C77CFF"/>
<circle cx="1257.4" cy="266.77" r="4.6" fill="none" stroke="#C77CFF" stroke-width="2.1"/>
<circle cx="1257.4" cy="223.24" r="5.7" fill="#C77CFF"/>
<rect x="733.6" y="82.45" width="610.7" height="477" fill="none" stroke="#000" stroke-width="2.8"/>
<line x1="725.8" x2="732.2" y1="538.9" y2="538.9" stroke="#333" stroke-width="2.7"/>
<text class="a" text-anchor="end" transform="translate(720.4,547.2)">0</text>
<line x1="725.8" x2="732.2" y1="430.05" y2="430.05" stroke="#333" stroke-width="2.7"/>
<text class="a" text-anchor="end" transform="translate(720.4,438.35)">1</text>
<line x1="725.8" x2="732.2" y1="321.2" y2="321.2" stroke="#333" stroke-width="2.7"/>
<text class="a" text-anchor="end" transform="translate(720.4,329.5)">2</text>
<line x1="725.8" x2="732.2" y1="212.35" y2="212.35" stroke="#333" stroke-width="2.7"/>
<text class="a" text-anchor="end" transform="translate(720.4,220.65)">3</text>
<line x1="725.8" x2="732.2" y1="103.5" y2="103.5" stroke="#333" stroke-width="2.7"/>
<text class="a" text-anchor="end" transform="translate(720.4,111.8)">4</text>
<line x1="820" x2="820" y1="560.85" y2="567.15" stroke="#333" stroke-width="2.7"/>
<text class="a" text-anchor="middle" transform="translate(816.7,588.7)">Boreal</text>
<text class="a" text-anchor="middle" transform="translate(820,613.6)">coniferous</text>
<line x1="965.8" x2="965.8" y1="560.85" y2="567.15" stroke="#333" stroke-width="2.7"/>
<text class="a" text-anchor="middle" transform="translate(962.5,588.7)">Deciduous</text>
<text class="a" text-anchor="middle" transform="translate(965.8,613.6)">broadleaved</text>
<line x1="1111.6" x2="1111.6" y1="560.85" y2="567.15" stroke="#333" stroke-width="2.7"/>
<text class="a" text-anchor="middle" transform="translate(1108.3,588.7)">Temperate</text>
<text class="a" text-anchor="middle" transform="translate(1111.6,613.6)">coniferous</text>
<line x1="1257.4" x2="1257.4" y1="560.85" y2="567.15" stroke="#333" stroke-width="2.7"/>
<text class="a" text-anchor="middle" transform="translate(1254.1,588.7)">Evergreen</text>
<text class="a" text-anchor="middle" transform="translate(1257.4,613.6)">broadleaved</text>
</g>
<g>
<text class="t" transform="translate(1396.25,28.7) scale(0.9620,1)">Maintaining</text>
<text class="t" transform="translate(1396.25,61.6) scale(0.9620,1)">50% of the species</text>
<path d="M1433.83,353.86L1433.32,352.83L1432.84,351.81L1432.38,350.79L1431.96,349.77L1431.57,348.74L1431.21,347.72L1430.89,346.7L1430.6,345.68L1430.34,344.65L1430.11,343.63L1429.92,342.61L1429.77,341.59L1429.65,340.56L1429.56,339.54L1429.51,338.52L1429.49,337.5L1429.51,336.47L1429.56,335.45L1429.65,334.43L1429.77,333.41L1429.93,332.38L1430.12,331.36L1430.34,330.34L1430.59,329.32L1430.87,328.29L1431.19,327.27L1431.54,326.25L1431.91,325.23L1432.32,324.2L1432.75,323.18L1433.21,322.16L1433.69,321.14L1434.2,320.11L1434.74,319.09L1435.3,318.07L1435.88,317.05L1436.48,316.02L1437.11,315L1437.75,313.98L1438.41,312.96L1439.09,311.93L1439.78,310.91L1440.49,309.89L1441.21,308.87L1441.95,307.84L1442.7,306.82L1443.45,305.8L1444.22,304.78L1444.99,303.75L1445.78,302.73L1446.56,301.71L1447.36,300.69L1448.15,299.66L1448.95,298.64L1449.75,297.62L1450.55,296.6L1451.36,295.57L1452.16,294.55L1452.95,293.53L1453.75,292.51L1454.54,291.48L1455.32,290.46L1456.1,289.44L1456.87,288.42L1457.64,287.39L1458.39,286.37L1459.14,285.35L1459.87,284.33L1460.6,283.3L1461.31,282.28L1462.01,281.26L1462.7,280.24L1463.38,279.21L1464.04,278.19L1464.69,277.17L1465.32,276.15L1465.93,275.13L1466.53,274.1L1467.12,273.08L1467.68,272.06L1468.23,271.04L1468.77,270.01L1469.28,268.99L1469.77,267.97L1470.25,266.95L1470.71,265.92L1471.15,264.9L1471.57,263.88L1471.97,262.86L1472.35,261.83L1472.71,260.81L1473.05,259.79L1473.37,258.77L1473.67,257.74L1473.95,256.72L1474.21,255.7L1474.45,254.68L1474.67,253.65L1474.87,252.63L1475.05,251.61L1475.21,250.59L1475.35,249.56L1475.48,248.54L1475.58,247.52L1475.66,246.5L1475.72,245.47L1475.77,244.45L1475.79,243.43L1475.8,242.41L1475.79,241.38L1475.76,240.36L1475.71,239.34L1475.65,238.32L1475.57,237.29L1475.47,236.27L1475.35,235.25L1475.22,234.23L1475.08,233.2L1474.92,232.18L1474.74,231.16L1474.55,230.14L1474.35,229.11L1474.14,228.09L1473.91,227.07L1473.67,226.05L1473.42,225.02L1473.15,224L1472.88,222.98L1472.6,221.96L1472.31,220.93L1472.02,219.91L1471.71,218.89L1471.4,217.87L1471.08,216.84L1470.76,215.82L1470.44,214.8L1470.11,213.78L1469.78,212.75L1469.45,211.73L1469.11,210.71L1468.78,209.69L1468.45,208.66L1468.12,207.64L1467.79,206.62L1467.46,205.6L1467.14,204.58L1466.83,203.55L1466.52,202.53L1466.22,201.51L1465.92,200.49L1465.64,199.46L1465.36,198.44L1465.09,197.42L1464.84,196.4L1464.59,195.37L1464.36,194.35L1464.14,193.33L1463.93,192.31L1463.74,191.28L1463.56,190.26L1463.39,189.24L1463.25,188.22L1463.11,187.19L1463,186.17L1462.9,185.15L1462.82,184.13L1462.75,183.1L1462.7,182.08L1462.67,181.06L1462.66,180.04L1462.66,179.69L1503.74,179.69L1503.74,180.04L1503.73,181.06L1503.7,182.08L1503.65,183.1L1503.58,184.13L1503.5,185.15L1503.4,186.17L1503.29,187.19L1503.15,188.22L1503.01,189.24L1502.84,190.26L1502.66,191.28L1502.47,192.31L1502.26,193.33L1502.04,194.35L1501.81,195.37L1501.56,196.4L1501.31,197.42L1501.04,198.44L1500.76,199.46L1500.48,200.49L1500.18,201.51L1499.88,202.53L1499.57,203.55L1499.26,204.58L1498.94,205.6L1498.61,206.62L1498.28,207.64L1497.95,208.66L1497.62,209.69L1497.29,210.71L1496.95,211.73L1496.62,212.75L1496.29,213.78L1495.96,214.8L1495.64,215.82L1495.32,216.84L1495,217.87L1494.69,218.89L1494.38,219.91L1494.09,220.93L1493.8,221.96L1493.52,222.98L1493.25,224L1492.98,225.02L1492.73,226.05L1492.49,227.07L1492.26,228.09L1492.05,229.11L1491.85,230.14L1491.66,231.16L1491.48,232.18L1491.32,233.2L1491.18,234.23L1491.05,235.25L1490.93,236.27L1490.83,237.29L1490.75,238.32L1490.69,239.34L1490.64,240.36L1490.61,241.38L1490.6,242.41L1490.61,243.43L1490.63,244.45L1490.68,245.47L1490.74,246.5L1490.82,247.52L1490.92,248.54L1491.05,249.56L1491.19,250.59L1491.35,251.61L1491.53,252.63L1491.73,253.65L1491.95,254.68L1492.19,255.7L1492.45,256.72L1492.73,257.74L1493.03,258.77L1493.35,259.79L1493.69,260.81L1494.05,261.83L1494.43,262.86L1494.83,263.88L1495.25,264.9L1495.69,265.92L1496.15,266.95L1496.63,267.97L1497.12,268.99L1497.63,270.01L1498.17,271.04L1498.72,272.06L1499.28,273.08L1499.87,274.1L1500.47,275.13L1501.08,276.15L1501.71,277.17L1502.36,278.19L1503.02,279.21L1503.7,280.24L1504.39,281.26L1505.09,282.28L1505.8,283.3L1506.53,284.33L1507.26,285.35L1508.01,286.37L1508.76,287.39L1509.53,288.42L1510.3,289.44L1511.08,290.46L1511.86,291.48L1512.65,292.51L1513.45,293.53L1514.24,294.55L1515.04,295.57L1515.85,296.6L1516.65,297.62L1517.45,298.64L1518.25,299.66L1519.04,300.69L1519.84,301.71L1520.62,302.73L1521.41,303.75L1522.18,304.78L1522.95,305.8L1523.7,306.82L1524.45,307.84L1525.19,308.87L1525.91,309.89L1526.62,310.91L1527.31,311.93L1527.99,312.96L1528.65,313.98L1529.29,315L1529.92,316.02L1530.52,317.05L1531.1,318.07L1531.66,319.09L1532.2,320.11L1532.71,321.14L1533.19,322.16L1533.65,323.18L1534.08,324.2L1534.49,325.23L1534.86,326.25L1535.21,327.27L1535.53,328.29L1535.81,329.32L1536.06,330.34L1536.28,331.36L1536.47,332.38L1536.63,333.41L1536.75,334.43L1536.84,335.45L1536.89,336.47L1536.91,337.5L1536.89,338.52L1536.84,339.54L1536.75,340.56L1536.63,341.59L1536.48,342.61L1536.29,343.63L1536.06,344.65L1535.8,345.68L1535.51,346.7L1535.19,347.72L1534.83,348.74L1534.44,349.77L1534.02,350.79L1533.56,351.81L1533.08,352.83L1532.57,353.86Z" fill="#F8766D" fill-opacity="0.55" stroke="#F8766D" stroke-width="2.6" stroke-linejoin="round"/>
<path d="M1623.19,462.7L1623.17,461.04L1623.18,459.38L1623.2,457.72L1623.25,456.06L1623.31,454.4L1623.38,452.74L1623.47,451.07L1623.57,449.41L1623.67,447.75L1623.77,446.09L1623.87,444.43L1623.96,442.77L1624.04,441.11L1624.11,439.44L1624.17,437.78L1624.2,436.12L1624.21,434.46L1624.2,432.8L1624.17,431.14L1624.11,429.47L1624.01,427.81L1623.9,426.15L1623.75,424.49L1623.58,422.83L1623.38,421.17L1623.15,419.51L1622.91,417.84L1622.64,416.18L1622.36,414.52L1622.06,412.86L1621.76,411.2L1621.45,409.54L1621.13,407.88L1620.82,406.21L1620.51,404.55L1620.2,402.89L1619.91,401.23L1619.64,399.57L1619.38,397.91L1619.15,396.24L1618.93,394.58L1618.75,392.92L1618.58,391.26L1618.45,389.6L1618.34,387.94L1618.26,386.28L1618.21,384.61L1618.18,382.95L1618.18,381.29L1618.2,379.63L1618.23,377.97L1618.29,376.31L1618.35,374.65L1618.42,372.98L1618.5,371.32L1618.58,369.66L1618.65,368L1618.72,366.34L1618.77,364.68L1618.8,363.01L1618.81,361.35L1618.8,359.69L1618.75,358.03L1618.67,356.37L1618.55,354.71L1618.39,353.05L1618.19,351.38L1617.94,349.72L1617.64,348.06L1617.29,346.4L1616.89,344.74L1616.43,343.08L1615.92,341.42L1615.35,339.75L1614.72,338.09L1614.04,336.43L1613.31,334.77L1612.52,333.11L1611.67,331.45L1610.78,329.78L1609.83,328.12L1608.84,326.46L1607.8,324.8L1606.72,323.14L1605.6,321.48L1604.44,319.82L1603.26,318.15L1602.06,316.49L1600.83,314.83L1599.6,313.17L1598.36,311.51L1597.12,309.85L1595.89,308.18L1594.68,306.52L1593.49,304.86L1592.33,303.2L1591.21,301.54L1590.12,299.88L1589.09,298.22L1588.11,296.55L1587.18,294.89L1586.32,293.23L1585.52,291.57L1584.79,289.91L1584.13,288.25L1583.53,286.59L1582.99,284.92L1582.52,283.26L1582.12,281.6L1581.77,279.94L1581.48,278.28L1581.24,276.62L1581.05,274.95L1580.91,273.29L1580.8,271.63L1580.74,269.97L1580.71,268.31L1580.71,266.65L1580.75,264.99L1580.81,263.32L1580.9,261.66L1581.02,260L1581.17,258.34L1581.35,256.68L1581.56,255.02L1581.81,253.36L1582.08,251.69L1582.4,250.03L1582.76,248.37L1583.15,246.71L1583.59,245.05L1584.07,243.39L1584.6,241.72L1585.17,240.06L1585.78,238.4L1586.43,236.74L1587.12,235.08L1587.85,233.42L1588.61,231.76L1589.39,230.09L1590.2,228.43L1591.04,226.77L1591.88,225.11L1592.74,223.45L1593.59,221.79L1594.45,220.13L1595.31,218.46L1596.15,216.8L1596.99,215.14L1597.8,213.48L1598.61,211.82L1599.39,210.16L1600.15,208.49L1600.9,206.83L1601.63,205.17L1602.34,203.51L1603.04,201.85L1603.73,200.19L1604.41,198.53L1605.08,196.86L1605.74,195.2L1606.41,193.54L1607.08,191.88L1607.75,190.22L1608.43,188.56L1609.12,186.89L1609.81,185.23L1610.52,183.57L1611.24,181.91L1611.97,180.25L1612.22,179.69L1645.78,179.69L1646.03,180.25L1646.76,181.91L1647.48,183.57L1648.19,185.23L1648.88,186.89L1649.57,188.56L1650.25,190.22L1650.92,191.88L1651.59,193.54L1652.26,195.2L1652.92,196.86L1653.59,198.53L1654.27,200.19L1654.96,201.85L1655.66,203.51L1656.37,205.17L1657.1,206.83L1657.85,208.49L1658.61,210.16L1659.39,211.82L1660.2,213.48L1661.01,215.14L1661.85,216.8L1662.69,218.46L1663.55,220.13L1664.41,221.79L1665.26,223.45L1666.12,225.11L1666.96,226.77L1667.8,228.43L1668.61,230.09L1669.39,231.76L1670.15,233.42L1670.88,235.08L1671.57,236.74L1672.22,238.4L1672.83,240.06L1673.4,241.72L1673.93,243.39L1674.41,245.05L1674.85,246.71L1675.24,248.37L1675.6,250.03L1675.92,251.69L1676.19,253.36L1676.44,255.02L1676.65,256.68L1676.83,258.34L1676.98,260L1677.1,261.66L1677.19,263.32L1677.25,264.99L1677.29,266.65L1677.29,268.31L1677.26,269.97L1677.2,271.63L1677.09,273.29L1676.95,274.95L1676.76,276.62L1676.52,278.28L1676.23,279.94L1675.88,281.6L1675.48,283.26L1675.01,284.92L1674.47,286.59L1673.87,288.25L1673.21,289.91L1672.48,291.57L1671.68,293.23L1670.82,294.89L1669.89,296.55L1668.91,298.22L1667.88,299.88L1666.79,301.54L1665.67,303.2L1664.51,304.86L1663.32,306.52L1662.11,308.18L1660.88,309.85L1659.64,311.51L1658.4,313.17L1657.17,314.83L1655.94,316.49L1654.74,318.15L1653.56,319.82L1652.4,321.48L1651.28,323.14L1650.2,324.8L1649.16,326.46L1648.17,328.12L1647.22,329.78L1646.33,331.45L1645.48,333.11L1644.69,334.77L1643.96,336.43L1643.28,338.09L1642.65,339.75L1642.08,341.42L1641.57,343.08L1641.11,344.74L1640.71,346.4L1640.36,348.06L1640.06,349.72L1639.81,351.38L1639.61,353.05L1639.45,354.71L1639.33,356.37L1639.25,358.03L1639.2,359.69L1639.19,361.35L1639.2,363.01L1639.23,364.68L1639.28,366.34L1639.35,368L1639.42,369.66L1639.5,371.32L1639.58,372.98L1639.65,374.65L1639.71,376.31L1639.77,377.97L1639.8,379.63L1639.82,381.29L1639.82,382.95L1639.79,384.61L1639.74,386.28L1639.66,387.94L1639.55,389.6L1639.42,391.26L1639.25,392.92L1639.07,394.58L1638.85,396.24L1638.62,397.91L1638.36,399.57L1638.09,401.23L1637.8,402.89L1637.49,404.55L1637.18,406.21L1636.87,407.88L1636.55,409.54L1636.24,411.2L1635.94,412.86L1635.64,414.52L1635.36,416.18L1635.09,417.84L1634.85,419.51L1634.62,421.17L1634.42,422.83L1634.25,424.49L1634.1,426.15L1633.99,427.81L1633.89,429.47L1633.83,431.14L1633.8,432.8L1633.79,434.46L1633.8,436.12L1633.83,437.78L1633.89,439.44L1633.96,441.11L1634.04,442.77L1634.13,444.43L1634.23,446.09L1634.33,447.75L1634.43,449.41L1634.53,451.07L1634.62,452.74L1634.69,454.4L1634.75,456.06L1634.8,457.72L1634.82,459.38L1634.83,461.04L1634.81,462.7Z" fill="#7CAE00" fill-opacity="0.55" stroke="#7CAE00" stroke-width="2.6" stroke-linejoin="round"/>
<path d="M1732.64,397.39L1731.47,396.05L1730.36,394.71L1729.3,393.37L1728.3,392.03L1727.35,390.69L1726.45,389.34L1725.61,388L1724.81,386.66L1724.06,385.32L1723.35,383.98L1722.68,382.63L1722.04,381.29L1721.43,379.95L1720.84,378.61L1720.27,377.27L1719.71,375.92L1719.15,374.58L1718.61,373.24L1718.06,371.9L1717.51,370.56L1716.95,369.21L1716.39,367.87L1715.83,366.53L1715.26,365.19L1714.68,363.85L1714.11,362.5L1713.54,361.16L1712.98,359.82L1712.43,358.48L1711.9,357.14L1711.39,355.79L1710.92,354.45L1710.49,353.11L1710.1,351.77L1709.78,350.43L1709.52,349.08L1709.33,347.74L1709.22,346.4L1709.19,345.06L1709.26,343.72L1709.43,342.37L1709.7,341.03L1710.08,339.69L1710.57,338.35L1711.17,337.01L1711.89,335.66L1712.71,334.32L1713.65,332.98L1714.7,331.64L1715.86,330.3L1717.12,328.95L1718.47,327.61L1719.92,326.27L1721.45,324.93L1723.05,323.59L1724.72,322.24L1726.46,320.9L1728.24,319.56L1730.06,318.22L1731.92,316.88L1733.8,315.53L1735.69,314.19L1737.59,312.85L1739.48,311.51L1741.36,310.17L1743.22,308.82L1745.05,307.48L1746.85,306.14L1748.6,304.8L1750.31,303.46L1751.97,302.11L1753.57,300.77L1755.1,299.43L1756.58,298.09L1757.98,296.75L1759.33,295.4L1760.6,294.06L1761.8,292.72L1762.93,291.38L1763.99,290.04L1764.98,288.69L1765.91,287.35L1766.77,286.01L1767.57,284.67L1768.3,283.33L1768.98,281.98L1769.6,280.64L1770.17,279.3L1770.69,277.96L1771.16,276.62L1771.58,275.27L1771.96,273.93L1772.31,272.59L1772.62,271.25L1772.89,269.91L1773.14,268.56L1773.36,267.22L1773.55,265.88L1773.72,264.54L1773.87,263.2L1774,261.85L1774.11,260.51L1774.21,259.17L1774.29,257.83L1774.37,256.49L1774.43,255.14L1774.48,253.8L1774.52,252.46L1774.56,251.12L1774.59,249.78L1774.61,248.43L1774.62,247.09L1774.63,245.75L1774.64,244.41L1774.64,243.07L1774.63,241.72L1774.62,240.38L1774.6,239.04L1774.58,237.7L1774.56,236.36L1774.52,235.01L1774.48,233.67L1774.43,232.33L1774.38,230.99L1774.31,229.65L1774.24,228.3L1774.16,226.96L1774.06,225.62L1773.96,224.28L1773.84,222.94L1773.71,221.59L1773.56,220.25L1773.4,218.91L1773.23,217.57L1773.03,216.23L1772.82,214.88L1772.59,213.54L1772.34,212.2L1772.07,210.86L1771.79,209.52L1771.48,208.17L1771.16,206.83L1770.81,205.49L1770.45,204.15L1770.07,202.81L1769.67,201.47L1769.26,200.12L1768.83,198.78L1768.39,197.44L1767.95,196.1L1767.49,194.76L1767.03,193.41L1766.57,192.07L1766.1,190.73L1765.64,189.39L1765.19,188.05L1764.75,186.7L1764.32,185.36L1763.91,184.02L1763.52,182.68L1763.16,181.34L1762.82,179.99L1762.51,178.65L1762.24,177.31L1762,175.97L1761.79,174.63L1761.63,173.28L1761.51,171.94L1761.43,170.6L1761.39,169.26L1761.39,168.81L1788.21,168.81L1788.21,169.26L1788.17,170.6L1788.09,171.94L1787.97,173.28L1787.81,174.63L1787.6,175.97L1787.36,177.31L1787.09,178.65L1786.78,179.99L1786.44,181.34L1786.08,182.68L1785.69,184.02L1785.28,185.36L1784.85,186.7L1784.41,188.05L1783.96,189.39L1783.5,190.73L1783.03,192.07L1782.57,193.41L1782.11,194.76L1781.65,196.1L1781.21,197.44L1780.77,198.78L1780.34,200.12L1779.93,201.47L1779.53,202.81L1779.15,204.15L1778.79,205.49L1778.44,206.83L1778.12,208.17L1777.81,209.52L1777.53,210.86L1777.26,212.2L1777.01,213.54L1776.78,214.88L1776.57,216.23L1776.37,217.57L1776.2,218.91L1776.04,220.25L1775.89,221.59L1775.76,222.94L1775.64,224.28L1775.54,225.62L1775.44,226.96L1775.36,228.3L1775.29,229.65L1775.22,230.99L1775.17,232.33L1775.12,233.67L1775.08,235.01L1775.04,236.36L1775.02,237.7L1775,239.04L1774.98,240.38L1774.97,241.72L1774.96,243.07L1774.96,244.41L1774.97,245.75L1774.98,247.09L1774.99,248.43L1775.01,249.78L1775.04,251.12L1775.08,252.46L1775.12,253.8L1775.17,255.14L1775.23,256.49L1775.31,257.83L1775.39,259.17L1775.49,260.51L1775.6,261.85L1775.73,263.2L1775.88,264.54L1776.05,265.88L1776.24,267.22L1776.46,268.56L1776.71,269.91L1776.98,271.25L1777.29,272.59L1777.64,273.93L1778.02,275.27L1778.44,276.62L1778.91,277.96L1779.43,279.3L1780,280.64L1780.62,281.98L1781.3,283.33L1782.03,284.67L1782.83,286.01L1783.69,287.35L1784.62,288.69L1785.61,290.04L1786.67,291.38L1787.8,292.72L1789,294.06L1790.27,295.4L1791.62,296.75L1793.02,298.09L1794.5,299.43L1796.03,300.77L1797.63,302.11L1799.29,303.46L1801,304.8L1802.75,306.14L1804.55,307.48L1806.38,308.82L1808.24,310.17L1810.12,311.51L1812.01,312.85L1813.91,314.19L1815.8,315.53L1817.68,316.88L1819.54,318.22L1821.36,319.56L1823.14,320.9L1824.88,322.24L1826.55,323.59L1828.15,324.93L1829.68,326.27L1831.13,327.61L1832.48,328.95L1833.74,330.3L1834.9,331.64L1835.95,332.98L1836.89,334.32L1837.71,335.66L1838.43,337.01L1839.03,338.35L1839.52,339.69L1839.9,341.03L1840.17,342.37L1840.34,343.72L1840.41,345.06L1840.38,346.4L1840.27,347.74L1840.08,349.08L1839.82,350.43L1839.5,351.77L1839.11,353.11L1838.68,354.45L1838.21,355.79L1837.7,357.14L1837.17,358.48L1836.62,359.82L1836.06,361.16L1835.49,362.5L1834.92,363.85L1834.34,365.19L1833.77,366.53L1833.21,367.87L1832.65,369.21L1832.09,370.56L1831.54,371.9L1830.99,373.24L1830.45,374.58L1829.89,375.92L1829.33,377.27L1828.76,378.61L1828.17,379.95L1827.56,381.29L1826.92,382.63L1826.25,383.98L1825.54,385.32L1824.79,386.66L1823.99,388L1823.15,389.34L1822.25,390.69L1821.3,392.03L1820.3,393.37L1819.24,394.71L1818.13,396.05L1816.96,397.39Z" fill="#00BFC4" fill-opacity="0.55" stroke="#00BFC4" stroke-width="2.6" stroke-linejoin="round"/>
<path d="M1911.94,430.05L1911.8,428.32L1911.67,426.6L1911.53,424.87L1911.4,423.15L1911.26,421.42L1911.13,419.7L1910.99,417.97L1910.86,416.25L1910.73,414.52L1910.59,412.8L1910.46,411.07L1910.32,409.35L1910.19,407.62L1910.05,405.89L1909.92,404.17L1909.79,402.44L1909.65,400.72L1909.52,398.99L1909.39,397.27L1909.25,395.54L1909.12,393.82L1908.98,392.09L1908.85,390.37L1908.72,388.64L1908.58,386.91L1908.45,385.19L1908.32,383.46L1908.18,381.74L1908.05,380.01L1907.92,378.29L1907.79,376.56L1907.66,374.84L1907.53,373.11L1907.4,371.39L1907.27,369.66L1907.14,367.94L1907.02,366.21L1906.89,364.48L1906.77,362.76L1906.65,361.03L1906.53,359.31L1906.41,357.58L1906.29,355.86L1906.17,354.13L1906.06,352.41L1905.95,350.68L1905.84,348.96L1905.73,347.23L1905.62,345.5L1905.52,343.78L1905.41,342.05L1905.31,340.33L1905.21,338.6L1905.12,336.88L1905.02,335.15L1904.93,333.43L1904.83,331.7L1904.74,329.98L1904.65,328.25L1904.57,326.53L1904.48,324.8L1904.39,323.07L1904.31,321.35L1904.22,319.62L1904.14,317.9L1904.06,316.17L1903.98,314.45L1903.89,312.72L1903.81,311L1903.72,309.27L1903.64,307.55L1903.55,305.82L1903.47,304.09L1903.38,302.37L1903.29,300.64L1903.2,298.92L1903.1,297.19L1903.01,295.47L1902.91,293.74L1902.8,292.02L1902.7,290.29L1902.59,288.57L1902.48,286.84L1902.36,285.12L1902.24,283.39L1902.11,281.66L1901.98,279.94L1901.85,278.21L1901.71,276.49L1901.57,274.76L1901.42,273.04L1901.27,271.31L1901.11,269.59L1900.95,267.86L1900.78,266.14L1900.61,264.41L1900.43,262.69L1900.25,260.96L1900.07,259.23L1899.88,257.51L1899.68,255.78L1899.49,254.06L1899.29,252.33L1899.08,250.61L1898.88,248.88L1898.67,247.16L1898.46,245.43L1898.24,243.71L1898.03,241.98L1897.82,240.25L1897.6,238.53L1897.38,236.8L1897.17,235.08L1896.96,233.35L1896.74,231.63L1896.53,229.9L1896.33,228.18L1896.12,226.45L1895.92,224.73L1895.73,223L1895.54,221.28L1895.35,219.55L1895.17,217.82L1895,216.1L1894.83,214.37L1894.67,212.65L1894.53,210.92L1894.38,209.2L1894.25,207.47L1894.13,205.75L1894.02,204.02L1893.92,202.3L1893.83,200.57L1893.75,198.84L1893.69,197.12L1893.63,195.39L1893.59,193.67L1893.57,191.94L1893.55,190.22L1893.55,188.49L1893.57,186.77L1893.6,185.04L1893.64,183.32L1893.7,181.59L1893.77,179.87L1893.85,178.14L1893.95,176.41L1894.07,174.69L1894.2,172.96L1894.34,171.24L1894.5,169.51L1894.67,167.79L1894.86,166.06L1895.06,164.34L1895.27,162.61L1895.5,160.89L1895.74,159.16L1895.99,157.44L1896.25,155.71L1896.53,153.98L1896.82,152.26L1897.12,150.53L1897.43,148.81L1897.75,147.08L1898.07,145.36L1898.41,143.63L1898.76,141.91L1899.12,140.18L1899.48,138.46L1899.85,136.73L1899.98,136.15L1941.22,136.15L1941.35,136.73L1941.72,138.46L1942.08,140.18L1942.44,141.91L1942.79,143.63L1943.13,145.36L1943.45,147.08L1943.77,148.81L1944.08,150.53L1944.38,152.26L1944.67,153.98L1944.95,155.71L1945.21,157.44L1945.46,159.16L1945.7,160.89L1945.93,162.61L1946.14,164.34L1946.34,166.06L1946.53,167.79L1946.7,169.51L1946.86,171.24L1947,172.96L1947.13,174.69L1947.25,176.41L1947.35,178.14L1947.43,179.87L1947.5,181.59L1947.56,183.32L1947.6,185.04L1947.63,186.77L1947.65,188.49L1947.65,190.22L1947.63,191.94L1947.61,193.67L1947.57,195.39L1947.51,197.12L1947.45,198.84L1947.37,200.57L1947.28,202.3L1947.18,204.02L1947.07,205.75L1946.95,207.47L1946.82,209.2L1946.67,210.92L1946.53,212.65L1946.37,214.37L1946.2,216.1L1946.03,217.82L1945.85,219.55L1945.66,221.28L1945.47,223L1945.28,224.73L1945.08,226.45L1944.87,228.18L1944.67,229.9L1944.46,231.63L1944.24,233.35L1944.03,235.08L1943.82,236.8L1943.6,238.53L1943.38,240.25L1943.17,241.98L1942.96,243.71L1942.74,245.43L1942.53,247.16L1942.32,248.88L1942.12,250.61L1941.91,252.33L1941.71,254.06L1941.52,255.78L1941.32,257.51L1941.13,259.23L1940.95,260.96L1940.77,262.69L1940.59,264.41L1940.42,266.14L1940.25,267.86L1940.09,269.59L1939.93,271.31L1939.78,273.04L1939.63,274.76L1939.49,276.49L1939.35,278.21L1939.22,279.94L1939.09,281.66L1938.96,283.39L1938.84,285.12L1938.72,286.84L1938.61,288.57L1938.5,290.29L1938.4,292.02L1938.29,293.74L1938.19,295.47L1938.1,297.19L1938,298.92L1937.91,300.64L1937.82,302.37L1937.73,304.09L1937.65,305.82L1937.56,307.55L1937.48,309.27L1937.39,311L1937.31,312.72L1937.22,314.45L1937.14,316.17L1937.06,317.9L1936.98,319.62L1936.89,321.35L1936.81,323.07L1936.72,324.8L1936.63,326.53L1936.55,328.25L1936.46,329.98L1936.37,331.7L1936.27,333.43L1936.18,335.15L1936.08,336.88L1935.99,338.6L1935.89,340.33L1935.79,342.05L1935.68,343.78L1935.58,345.5L1935.47,347.23L1935.36,348.96L1935.25,350.68L1935.14,352.41L1935.03,354.13L1934.91,355.86L1934.79,357.58L1934.67,359.31L1934.55,361.03L1934.43,362.76L1934.31,364.48L1934.18,366.21L1934.06,367.94L1933.93,369.66L1933.8,371.39L1933.67,373.11L1933.54,374.84L1933.41,376.56L1933.28,378.29L1933.15,380.01L1933.02,381.74L1932.88,383.46L1932.75,385.19L1932.62,386.91L1932.48,388.64L1932.35,390.37L1932.22,392.09L1932.08,393.82L1931.95,395.54L1931.81,397.27L1931.68,398.99L1931.55,400.72L1931.41,402.44L1931.28,404.17L1931.15,405.89L1931.01,407.62L1930.88,409.35L1930.74,411.07L1930.61,412.8L1930.47,414.52L1930.34,416.25L1930.21,417.97L1930.07,419.7L1929.94,421.42L1929.8,423.15L1929.67,424.87L1929.53,426.6L1929.4,428.32L1929.26,430.05Z" fill="#C77CFF" fill-opacity="0.55" stroke="#C77CFF" stroke-width="2.6" stroke-linejoin="round"/>
<circle cx="1483.2" cy="353.86" r="5.7" fill="#F8766D"/>
<circle cx="1483.2" cy="342.97" r="5.7" fill="#F8766D"/>
<circle cx="1483.2" cy="310.31" r="5.7" fill="#F8766D"/>
<circle cx="1483.2" cy="179.69" r="5.7" fill="#F8766D"/>
<circle cx="1629" cy="462.7" r="4.6" fill="none" stroke="#7CAE00" stroke-width="2.1"/>
<circle cx="1629" cy="397.39" r="5.7" fill="#7CAE00"/>
<circle cx="1629" cy="375.62" r="5.7" fill="#7CAE00"/>
<circle cx="1629" cy="332.09" r="5.7" fill="#7CAE00"/>
<circle cx="1629" cy="310.31" r="5.7" fill="#7CAE00"/>
<circle cx="1629" cy="299.43" r="5.7" fill="#7CAE00"/>
<circle cx="1629" cy="288.55" r="5.7" fill="#7CAE00"/>
<circle cx="1629" cy="277.66" r="5.7" fill="#7CAE00"/>
<circle cx="1629" cy="255.89" r="5.7" fill="#7CAE00"/>
<circle cx="1629" cy="245" r="5.7" fill="#7CAE00"/>
<circle cx="1629" cy="234.12" r="5.7" fill="#7CAE00"/>
<circle cx="1629" cy="223.24" r="5.7" fill="#7CAE00"/>
<circle cx="1629" cy="201.46" r="5.7" fill="#7CAE00"/>
<circle cx="1629" cy="190.58" r="5.7" fill="#7CAE00"/>
<circle cx="1629" cy="179.69" r="5.7" fill="#7CAE00"/>
<circle cx="1774.8" cy="397.39" r="4.6" fill="none" stroke="#00BFC4" stroke-width="2.1"/>
<circle cx="1774.8" cy="386.51" r="5.7" fill="#00BFC4"/>
<circle cx="1774.8" cy="353.86" r="5.7" fill="#00BFC4"/>
<circle cx="1774.8" cy="342.97" r="5.7" fill="#00BFC4"/>
<circle cx="1774.8" cy="332.09" r="4.6" fill="none" stroke="#00BFC4" stroke-width="2.1"/>
<circle cx="1774.8" cy="321.2" r="5.7" fill="#00BFC4"/>
<circle cx="1774.8" cy="168.81" r="5.7" fill="#00BFC4"/>
<circle cx="1920.6" cy="430.05" r="5.7" fill="#C77CFF"/>
<circle cx="1920.6" cy="332.09" r="5.7" fill="#C77CFF"/>
<circle cx="1920.6" cy="321.2" r="4.6" fill="none" stroke="#C77CFF" stroke-width="2.1"/>
<circle cx="1920.6" cy="234.12" r="5.7" fill="#C77CFF"/>
<circle cx="1920.6" cy="190.58" r="4.6" fill="none" stroke="#C77CFF" stroke-width="2.1"/>
<circle cx="1920.6" cy="179.69" r="5.7" fill="#C77CFF"/>
<circle cx="1920.6" cy="136.15" r="5.7" fill="#C77CFF"/>
<rect x="1396.6" y="82.45" width="608.6" height="477" fill="none" stroke="#000" stroke-width="2.8"/>
<line x1="1388.8" x2="1395.2" y1="538.9" y2="538.9" stroke="#333" stroke-width="2.7"/>
<text class="a" text-anchor="end" transform="translate(1383.4,547.2)">0</text>
<line x1="1388.8" x2="1395.2" y1="430.05" y2="430.05" stroke="#333" stroke-width="2.7"/>
<text class="a" text-anchor="end" transform="translate(1383.4,438.35)">1</text>
<line x1="1388.8" x2="1395.2" y1="321.2" y2="321.2" stroke="#333" stroke-width="2.7"/>
<text class="a" text-anchor="end" transform="translate(1383.4,329.5)">2</text>
<line x1="1388.8" x2="1395.2" y1="212.35" y2="212.35" stroke="#333" stroke-width="2.7"/>
<text class="a" text-anchor="end" transform="translate(1383.4,220.65)">3</text>
<line x1="1388.8" x2="1395.2" y1="103.5" y2="103.5" stroke="#333" stroke-width="2.7"/>
<text class="a" text-anchor="end" transform="translate(1383.4,111.8)">4</text>
<line x1="1483.2" x2="1483.2" y1="560.85" y2="567.15" stroke="#333" stroke-width="2.7"/>
<text class="a" text-anchor="middle" transform="translate(1479.9,588.7)">Boreal</text>
<text class="a" text-anchor="middle" transform="translate(1483.2,613.6)">coniferous</text>
<line x1="1629" x2="1629" y1="560.85" y2="567.15" stroke="#333" stroke-width="2.7"/>
<text class="a" text-anchor="middle" transform="translate(1625.7,588.7)">Deciduous</text>
<text class="a" text-anchor="middle" transform="translate(1629,613.6)">broadleaved</text>
<line x1="1774.8" x2="1774.8" y1="560.85" y2="567.15" stroke="#333" stroke-width="2.7"/>
<text class="a" text-anchor="middle" transform="translate(1771.5,588.7)">Temperate</text>
<text class="a" text-anchor="middle" transform="translate(1774.8,613.6)">coniferous</text>
<line x1="1920.6" x2="1920.6" y1="560.85" y2="567.15" stroke="#333" stroke-width="2.7"/>
<text class="a" text-anchor="middle" transform="translate(1917.3,588.7)">Evergreen</text>
<text class="a" text-anchor="middle" transform="translate(1920.6,613.6)">broadleaved</text>
</g>
</svg></body></html>
